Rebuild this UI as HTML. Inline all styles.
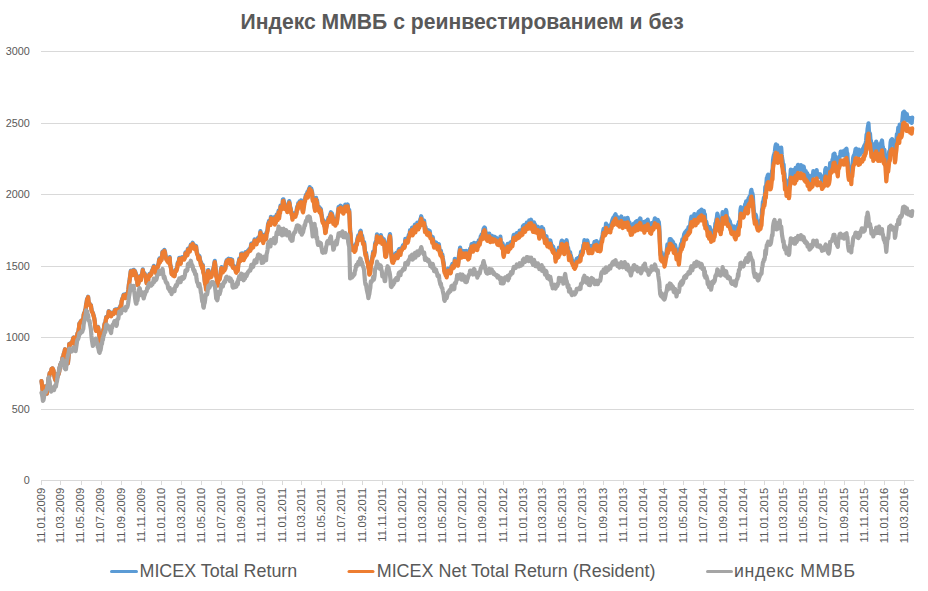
<!DOCTYPE html>
<html><head><meta charset="utf-8"><style>
html,body{margin:0;padding:0;background:#fff;}
svg{display:block;}
text{font-family:"Liberation Sans","DejaVu Sans",sans-serif;fill:#595959;}
</style></head><body>
<svg width="928" height="591" viewBox="0 0 928 591">
<rect width="928" height="591" fill="#fff"/>
<text x="240.5" y="29.3" font-size="21.15" font-weight="bold">Индекс ММВБ с реинвестированием и без</text>
<path d="M41 51.5H914M41 123.5H914M41 194.5H914M41 266.5H914M41 337.5H914M41 409.5H914" stroke="#d9d9d9" stroke-width="1" fill="none"/>
<path d="M41 480.5H914M41.5 480V485M60.5 480V485M81.5 480V485M101.5 480V485M121.5 480V485M141.5 480V485M161.5 480V485M181.5 480V485M201.5 480V485M221.5 480V485M242.5 480V485M262.5 480V485M282.5 480V485M301.5 480V485M321.5 480V485M342.5 480V485M362.5 480V485M382.5 480V485M402.5 480V485M422.5 480V485M442.5 480V485M462.5 480V485M483.5 480V485M503.5 480V485M523.5 480V485M542.5 480V485M563.5 480V485M583.5 480V485M603.5 480V485M623.5 480V485M643.5 480V485M663.5 480V485M683.5 480V485M703.5 480V485M724.5 480V485M744.5 480V485M764.5 480V485M783.5 480V485M803.5 480V485M824.5 480V485M844.5 480V485M864.5 480V485M884.5 480V485M904.5 480V485" stroke="#d9d9d9" stroke-width="1" fill="none"/>
<text transform="translate(29.8 54.7) scale(0.95 1)" font-size="11.4" text-anchor="end">3000</text>
<text transform="translate(29.8 126.7) scale(0.95 1)" font-size="11.4" text-anchor="end">2500</text>
<text transform="translate(29.8 197.7) scale(0.95 1)" font-size="11.4" text-anchor="end">2000</text>
<text transform="translate(29.8 269.7) scale(0.95 1)" font-size="11.4" text-anchor="end">1500</text>
<text transform="translate(29.8 340.7) scale(0.95 1)" font-size="11.4" text-anchor="end">1000</text>
<text transform="translate(29.8 412.7) scale(0.95 1)" font-size="11.4" text-anchor="end">500</text>
<text transform="translate(29.8 483.7) scale(0.95 1)" font-size="11.4" text-anchor="end">0</text>
<text transform="translate(44.7 487.6) rotate(-90)" font-size="11.3" text-anchor="end">11.01.2009</text>
<text transform="translate(64.2 487.6) rotate(-90)" font-size="11.3" text-anchor="end">11.03.2009</text>
<text transform="translate(84.3 487.6) rotate(-90)" font-size="11.3" text-anchor="end">11.05.2009</text>
<text transform="translate(104.4 487.6) rotate(-90)" font-size="11.3" text-anchor="end">11.07.2009</text>
<text transform="translate(124.9 487.6) rotate(-90)" font-size="11.3" text-anchor="end">11.09.2009</text>
<text transform="translate(145.0 487.6) rotate(-90)" font-size="11.3" text-anchor="end">11.11.2009</text>
<text transform="translate(165.1 487.6) rotate(-90)" font-size="11.3" text-anchor="end">11.01.2010</text>
<text transform="translate(184.6 487.6) rotate(-90)" font-size="11.3" text-anchor="end">11.03.2010</text>
<text transform="translate(204.7 487.6) rotate(-90)" font-size="11.3" text-anchor="end">11.05.2010</text>
<text transform="translate(224.8 487.6) rotate(-90)" font-size="11.3" text-anchor="end">11.07.2010</text>
<text transform="translate(245.3 487.6) rotate(-90)" font-size="11.3" text-anchor="end">11.09.2010</text>
<text transform="translate(265.4 487.6) rotate(-90)" font-size="11.3" text-anchor="end">11.11.2010</text>
<text transform="translate(285.5 487.6) rotate(-90)" font-size="11.3" text-anchor="end">11.01.2011</text>
<text transform="translate(305.0 487.6) rotate(-90)" font-size="11.3" text-anchor="end">11.03.2011</text>
<text transform="translate(325.1 487.6) rotate(-90)" font-size="11.3" text-anchor="end">11.05.2011</text>
<text transform="translate(345.2 487.6) rotate(-90)" font-size="11.3" text-anchor="end">11.07.2011</text>
<text transform="translate(365.7 487.6) rotate(-90)" font-size="11.3" text-anchor="end">11.09.2011</text>
<text transform="translate(385.8 487.6) rotate(-90)" font-size="11.3" text-anchor="end">11.11.2011</text>
<text transform="translate(405.9 487.6) rotate(-90)" font-size="11.3" text-anchor="end">11.01.2012</text>
<text transform="translate(425.7 487.6) rotate(-90)" font-size="11.3" text-anchor="end">11.03.2012</text>
<text transform="translate(445.8 487.6) rotate(-90)" font-size="11.3" text-anchor="end">11.05.2012</text>
<text transform="translate(466.0 487.6) rotate(-90)" font-size="11.3" text-anchor="end">11.07.2012</text>
<text transform="translate(486.4 487.6) rotate(-90)" font-size="11.3" text-anchor="end">11.09.2012</text>
<text transform="translate(506.6 487.6) rotate(-90)" font-size="11.3" text-anchor="end">11.11.2012</text>
<text transform="translate(526.7 487.6) rotate(-90)" font-size="11.3" text-anchor="end">11.01.2013</text>
<text transform="translate(546.1 487.6) rotate(-90)" font-size="11.3" text-anchor="end">11.03.2013</text>
<text transform="translate(566.3 487.6) rotate(-90)" font-size="11.3" text-anchor="end">11.05.2013</text>
<text transform="translate(586.4 487.6) rotate(-90)" font-size="11.3" text-anchor="end">11.07.2013</text>
<text transform="translate(606.8 487.6) rotate(-90)" font-size="11.3" text-anchor="end">11.09.2013</text>
<text transform="translate(627.0 487.6) rotate(-90)" font-size="11.3" text-anchor="end">11.11.2013</text>
<text transform="translate(647.1 487.6) rotate(-90)" font-size="11.3" text-anchor="end">11.01.2014</text>
<text transform="translate(666.5 487.6) rotate(-90)" font-size="11.3" text-anchor="end">11.03.2014</text>
<text transform="translate(686.7 487.6) rotate(-90)" font-size="11.3" text-anchor="end">11.05.2014</text>
<text transform="translate(706.8 487.6) rotate(-90)" font-size="11.3" text-anchor="end">11.07.2014</text>
<text transform="translate(727.2 487.6) rotate(-90)" font-size="11.3" text-anchor="end">11.09.2014</text>
<text transform="translate(747.4 487.6) rotate(-90)" font-size="11.3" text-anchor="end">11.11.2014</text>
<text transform="translate(767.5 487.6) rotate(-90)" font-size="11.3" text-anchor="end">11.01.2015</text>
<text transform="translate(787.0 487.6) rotate(-90)" font-size="11.3" text-anchor="end">11.03.2015</text>
<text transform="translate(807.1 487.6) rotate(-90)" font-size="11.3" text-anchor="end">11.05.2015</text>
<text transform="translate(827.2 487.6) rotate(-90)" font-size="11.3" text-anchor="end">11.07.2015</text>
<text transform="translate(847.7 487.6) rotate(-90)" font-size="11.3" text-anchor="end">11.09.2015</text>
<text transform="translate(867.8 487.6) rotate(-90)" font-size="11.3" text-anchor="end">11.11.2015</text>
<text transform="translate(887.9 487.6) rotate(-90)" font-size="11.3" text-anchor="end">11.01.2016</text>
<text transform="translate(907.7 487.6) rotate(-90)" font-size="11.3" text-anchor="end">11.03.2016</text>
<g fill="none" stroke-width="4.2" stroke-linejoin="round" stroke-linecap="round">
<path d="M41.5 381.2L42.0 384.8L42.5 389.6L42.9 391.8L43.4 391.2L43.9 391.4L44.4 389.7L44.9 386.5L45.3 387.2L45.8 386.6L46.3 390.0L46.8 393.6L47.3 389.9L47.7 387.7L48.2 383.1L48.7 378.0L49.2 376.4L49.7 373.0L50.1 373.6L50.6 372.2L51.1 371.7L51.6 368.8L52.1 369.3L52.5 368.5L53.0 369.1L53.5 370.6L54.0 374.4L54.5 376.4L54.9 378.6L55.4 380.1L55.9 380.7L56.4 378.7L56.9 378.2L57.3 377.3L57.8 373.8L58.3 374.7L58.8 373.3L59.3 371.2L59.7 367.7L60.2 364.9L60.7 363.9L61.2 362.8L61.7 363.5L62.1 361.4L62.6 357.3L63.1 358.6L63.6 354.4L64.1 352.6L64.5 351.8L65.0 349.2L65.5 350.7L66.0 354.2L66.5 355.2L66.9 357.6L67.4 361.4L67.9 363.3L68.4 358.4L68.9 349.6L69.3 343.9L69.8 345.4L70.3 344.0L70.8 343.9L71.3 342.6L71.7 343.3L72.2 342.0L72.7 340.4L73.2 338.0L73.7 337.5L74.1 341.4L74.6 342.8L75.1 342.3L75.6 346.2L76.1 342.8L76.5 339.7L77.0 335.4L77.5 333.3L78.0 332.6L78.5 330.7L78.9 328.4L79.4 323.5L79.9 322.8L80.4 322.4L80.9 321.0L81.3 320.7L81.8 320.3L82.3 321.1L82.8 319.4L83.3 318.7L83.7 314.6L84.2 312.9L84.7 312.2L85.2 309.8L85.7 308.6L86.1 304.3L86.6 302.4L87.1 298.9L87.6 298.8L88.1 296.7L88.5 300.8L89.0 303.4L89.5 303.3L90.0 305.3L90.5 305.4L90.9 305.1L91.4 309.0L91.9 311.3L92.4 312.0L92.9 312.9L93.3 314.5L93.8 316.2L94.3 318.2L94.8 321.4L95.3 326.9L95.7 329.5L96.2 330.5L96.7 330.4L97.2 327.6L97.7 327.3L98.1 327.0L98.6 330.2L99.1 333.4L99.6 337.4L100.1 340.0L100.5 343.1L101.0 341.0L101.5 337.5L102.0 338.7L102.5 334.3L102.9 334.6L103.4 329.5L103.9 328.4L104.4 324.6L104.9 322.8L105.3 324.0L105.8 319.6L106.3 317.0L106.8 317.5L107.3 316.9L107.7 315.8L108.2 315.4L108.7 311.1L109.2 311.7L109.7 312.1L110.1 313.6L110.6 314.4L111.1 315.8L111.6 312.8L112.1 314.3L112.5 312.6L113.0 312.8L113.5 313.5L114.0 312.4L114.5 311.6L114.9 309.7L115.4 309.5L115.9 310.0L116.4 311.9L116.9 312.2L117.3 309.2L117.8 311.9L118.3 313.6L118.8 312.1L119.3 308.2L119.7 309.4L120.2 306.7L120.7 305.3L121.2 305.5L121.7 300.6L122.1 299.4L122.6 297.9L123.1 297.6L123.6 294.7L124.1 294.7L124.5 294.7L125.0 296.4L125.5 297.5L126.0 293.8L126.5 295.8L126.9 295.5L127.4 295.3L127.9 292.7L128.4 289.3L128.9 284.2L129.3 281.8L129.8 278.4L130.3 274.6L130.8 270.7L131.3 270.7L131.7 271.3L132.2 273.0L132.7 274.5L133.2 271.1L133.7 269.8L134.1 271.4L134.6 270.5L135.1 271.5L135.6 273.0L136.1 274.6L136.5 278.9L137.0 278.2L137.5 284.3L138.0 284.0L138.5 282.6L138.9 280.4L139.4 277.4L139.9 276.2L140.4 279.3L140.9 279.5L141.3 275.1L141.8 275.2L142.3 272.4L142.8 269.4L143.3 272.5L143.7 274.6L144.2 273.1L144.7 273.7L145.2 275.3L145.7 276.5L146.1 279.6L146.6 282.8L147.1 280.4L147.6 280.4L148.1 280.7L148.5 276.5L149.0 275.6L149.5 273.8L150.0 275.2L150.5 274.5L150.9 274.2L151.4 273.3L151.9 270.7L152.4 270.8L152.9 268.4L153.3 267.9L153.8 265.9L154.3 270.6L154.8 268.3L155.3 269.7L155.7 270.1L156.2 272.7L156.7 271.0L157.2 267.1L157.7 266.5L158.1 264.5L158.6 263.7L159.1 259.5L159.6 258.5L160.1 261.2L160.5 258.5L161.0 259.5L161.5 259.2L162.0 255.9L162.5 251.5L162.9 251.4L163.4 253.9L163.9 254.3L164.4 249.9L164.9 251.4L165.3 253.9L165.8 256.5L166.3 258.5L166.8 258.9L167.3 260.3L167.7 260.1L168.2 261.5L168.7 258.3L169.2 258.7L169.7 257.1L170.1 263.6L170.6 265.8L171.1 268.0L171.6 273.2L172.1 271.0L172.5 272.6L173.0 274.6L173.5 272.6L174.0 272.4L174.5 275.3L174.9 272.0L175.4 270.7L175.9 269.4L176.4 269.9L176.9 268.1L177.3 266.7L177.8 262.6L178.3 261.8L178.8 261.0L179.3 257.9L179.7 261.1L180.2 261.6L180.7 262.8L181.2 258.5L181.7 257.5L182.1 257.1L182.6 257.4L183.1 258.7L183.6 258.4L184.1 258.6L184.5 257.8L185.0 256.2L185.5 252.3L186.0 252.7L186.5 253.6L186.9 254.5L187.4 254.2L187.9 248.6L188.4 248.4L188.9 248.9L189.3 249.3L189.8 250.5L190.3 247.8L190.8 244.5L191.3 245.1L191.7 244.4L192.2 243.7L192.7 242.8L193.2 246.5L193.7 245.7L194.1 247.6L194.6 245.2L195.1 248.2L195.6 247.4L196.1 245.9L196.5 250.1L197.0 252.9L197.5 253.8L198.0 255.3L198.5 258.3L198.9 257.3L199.4 256.0L199.9 259.3L200.4 260.8L200.9 264.0L201.3 262.8L201.8 265.9L202.3 267.6L202.8 264.9L203.3 271.5L203.7 272.6L204.2 274.9L204.7 280.3L205.2 283.3L205.7 284.6L206.1 288.7L206.6 286.2L207.1 283.4L207.6 277.6L208.1 270.0L208.5 270.2L209.0 274.2L209.5 276.1L210.0 276.5L210.5 275.4L210.9 276.2L211.4 275.7L211.9 273.5L212.4 272.6L212.9 270.8L213.3 268.6L213.8 267.0L214.3 263.5L214.8 260.9L215.3 264.9L215.7 269.0L216.2 275.6L216.7 276.2L217.2 282.0L217.7 284.7L218.1 280.1L218.6 277.4L219.1 276.7L219.6 278.7L220.1 275.9L220.5 274.0L221.0 269.3L221.5 267.1L222.0 267.8L222.5 270.0L222.9 271.3L223.4 269.1L223.9 268.2L224.4 269.5L224.9 267.0L225.3 268.0L225.8 263.4L226.3 261.4L226.8 260.1L227.3 261.8L227.7 259.6L228.2 258.9L228.7 258.7L229.2 259.0L229.7 261.3L230.1 262.8L230.6 259.0L231.1 260.0L231.6 260.0L232.1 259.6L232.5 265.7L233.0 266.5L233.5 265.9L234.0 265.9L234.5 267.7L234.9 267.0L235.4 268.4L235.9 271.1L236.4 271.6L236.9 269.0L237.3 267.9L237.8 269.8L238.3 263.6L238.8 261.6L239.3 258.6L239.7 259.5L240.2 259.0L240.7 259.8L241.2 253.5L241.7 255.8L242.1 253.3L242.6 256.7L243.1 256.2L243.6 259.0L244.1 257.6L244.5 253.8L245.0 256.5L245.5 252.2L246.0 252.3L246.5 254.5L246.9 253.3L247.4 252.6L247.9 250.7L248.4 250.2L248.9 250.3L249.3 249.1L249.8 249.4L250.3 249.6L250.8 246.7L251.3 243.6L251.7 247.3L252.2 245.0L252.7 245.8L253.2 246.1L253.7 242.0L254.1 243.4L254.6 239.3L255.1 242.8L255.6 241.5L256.1 242.0L256.5 243.1L257.0 239.9L257.5 240.4L258.0 238.0L258.5 238.1L258.9 239.4L259.4 236.9L259.9 234.6L260.4 231.2L260.9 233.5L261.3 233.8L261.8 238.5L262.3 236.2L262.8 239.6L263.3 241.6L263.7 238.0L264.2 234.8L264.7 238.3L265.2 238.3L265.7 237.5L266.1 237.9L266.6 232.1L267.1 231.4L267.6 229.1L268.1 223.6L268.5 223.6L269.0 221.0L269.5 222.8L270.0 223.4L270.5 223.6L270.9 216.8L271.4 219.4L271.9 219.8L272.4 220.7L272.9 220.7L273.3 220.3L273.8 217.3L274.3 220.6L274.8 223.1L275.3 222.1L275.7 221.8L276.2 216.1L276.7 214.6L277.2 217.2L277.7 218.6L278.1 216.1L278.6 210.7L279.1 217.0L279.6 210.9L280.1 211.5L280.5 205.6L281.0 207.7L281.5 206.4L282.0 207.6L282.5 206.1L282.9 199.5L283.4 199.3L283.9 201.7L284.4 203.9L284.9 207.6L285.3 206.4L285.8 205.7L286.3 206.7L286.8 207.8L287.3 210.6L287.7 208.5L288.2 207.1L288.7 203.0L289.2 201.1L289.7 203.2L290.1 206.7L290.6 207.9L291.1 210.9L291.6 213.3L292.1 214.1L292.5 218.2L293.0 214.3L293.5 214.4L294.0 213.3L294.5 213.5L294.9 214.8L295.4 215.2L295.9 213.0L296.4 212.4L296.9 208.4L297.3 206.4L297.8 207.8L298.3 203.0L298.8 203.7L299.3 202.3L299.7 201.3L300.2 205.5L300.7 201.6L301.2 200.4L301.7 201.0L302.1 205.2L302.6 209.7L303.1 210.7L303.6 206.6L304.1 204.2L304.5 200.0L305.0 199.9L305.5 196.7L306.0 194.9L306.5 194.6L306.9 194.6L307.4 191.9L307.9 195.9L308.4 191.0L308.9 189.4L309.3 188.4L309.8 187.2L310.3 189.2L310.8 189.6L311.3 188.7L311.7 190.3L312.2 192.5L312.7 199.1L313.2 198.8L313.7 199.5L314.1 202.3L314.6 206.6L315.1 209.2L315.6 200.8L316.1 197.8L316.5 203.3L317.0 200.3L317.5 205.4L318.0 207.6L318.5 208.5L318.9 206.7L319.4 210.3L319.9 210.9L320.4 208.4L320.9 209.1L321.3 213.1L321.8 215.6L322.3 219.5L322.8 221.1L323.3 220.1L323.7 221.5L324.2 224.4L324.7 225.4L325.2 231.5L325.7 231.1L326.1 227.2L326.6 225.1L327.1 221.6L327.6 220.5L328.1 220.6L328.5 217.6L329.0 219.2L329.5 220.1L330.0 214.7L330.5 214.0L330.9 212.2L331.4 215.4L331.9 213.2L332.4 215.2L332.9 217.7L333.3 222.2L333.8 221.4L334.3 219.9L334.8 221.3L335.3 224.0L335.7 222.0L336.2 218.5L336.7 221.9L337.2 218.6L337.7 214.3L338.1 211.3L338.6 207.0L339.1 206.8L339.6 207.8L340.1 207.3L340.5 205.7L341.0 209.4L341.5 209.8L342.0 208.6L342.5 206.8L342.9 210.9L343.4 211.7L343.9 210.6L344.4 206.9L344.9 208.0L345.3 204.6L345.8 209.1L346.3 208.6L346.8 208.1L347.3 206.0L347.7 204.5L348.2 210.0L348.7 210.9L349.2 209.9L349.7 219.7L350.1 229.9L350.6 233.9L351.1 242.2L351.6 246.0L352.1 248.2L352.5 246.1L353.0 248.0L353.5 245.8L354.0 249.1L354.5 250.1L354.9 247.9L355.4 249.1L355.9 244.9L356.4 242.9L356.9 243.1L357.3 239.2L357.8 237.8L358.3 235.3L358.8 237.9L359.3 238.2L359.7 234.5L360.2 231.4L360.7 230.8L361.2 234.5L361.7 237.0L362.1 235.8L362.6 239.3L363.1 242.3L363.6 241.7L364.1 242.0L364.5 246.0L365.0 250.8L365.5 253.8L366.0 252.6L366.5 256.7L366.9 258.8L367.4 260.7L367.9 262.6L368.4 266.4L368.9 268.1L369.3 273.0L369.8 272.7L370.3 270.8L370.8 264.3L371.3 262.6L371.7 261.3L372.2 258.1L372.7 255.1L373.2 251.5L373.7 254.2L374.1 253.1L374.6 250.6L375.1 243.7L375.6 242.0L376.1 242.3L376.5 239.5L377.0 234.3L377.5 237.1L378.0 238.4L378.5 236.3L378.9 237.6L379.4 237.5L379.9 240.3L380.4 236.0L380.9 235.1L381.3 237.1L381.8 237.5L382.3 242.0L382.8 239.5L383.3 239.4L383.7 239.1L384.2 241.7L384.7 247.6L385.2 254.4L385.7 255.0L386.1 254.7L386.6 251.4L387.1 249.1L387.6 246.5L388.1 246.6L388.5 241.1L389.0 239.5L389.5 236.2L390.0 234.1L390.5 239.4L390.9 249.1L391.4 253.3L391.9 258.6L392.4 260.7L392.9 258.1L393.3 260.9L393.8 256.7L394.3 258.6L394.8 255.0L395.3 253.8L395.7 253.6L396.2 252.9L396.7 254.2L397.2 254.8L397.7 256.2L398.1 254.8L398.6 250.1L399.1 249.2L399.6 249.4L400.1 250.6L400.5 252.9L401.0 248.4L401.5 248.8L402.0 247.9L402.5 247.1L402.9 245.4L403.4 245.7L403.9 244.7L404.4 245.8L404.9 244.4L405.3 238.9L405.8 240.6L406.3 241.1L406.8 239.6L407.3 238.5L407.7 240.5L408.2 238.9L408.7 235.2L409.2 234.5L409.7 233.6L410.1 230.1L410.6 232.6L411.1 231.3L411.6 231.8L412.1 227.5L412.5 233.0L413.0 232.2L413.5 230.9L414.0 228.0L414.5 226.6L414.9 224.7L415.4 230.0L415.9 226.2L416.4 226.2L416.9 226.3L417.3 222.6L417.8 224.5L418.3 227.1L418.8 223.7L419.3 225.3L419.7 223.2L420.2 219.7L420.7 218.6L421.2 216.2L421.7 218.0L422.1 222.4L422.6 221.9L423.1 221.7L423.6 222.4L424.1 220.6L424.5 224.2L425.0 229.6L425.5 226.9L426.0 229.4L426.5 230.6L426.9 232.1L427.4 231.7L427.9 232.8L428.4 230.2L428.9 231.1L429.3 231.3L429.8 231.2L430.3 235.7L430.8 235.6L431.3 236.7L431.7 236.7L432.2 240.5L432.7 237.0L433.2 239.8L433.7 243.1L434.1 245.3L434.6 243.4L435.1 242.4L435.6 243.4L436.1 242.5L436.5 244.9L437.0 244.3L437.5 247.0L438.0 246.9L438.5 245.1L438.9 244.2L439.4 248.8L439.9 250.7L440.4 252.9L440.9 250.8L441.3 254.1L441.8 254.8L442.3 254.6L442.8 258.1L443.3 260.9L443.7 263.1L444.2 268.7L444.7 270.8L445.2 271.6L445.7 273.1L446.1 272.9L446.6 275.3L447.1 273.2L447.6 269.8L448.1 268.6L448.5 269.1L449.0 270.7L449.5 268.6L450.0 269.8L450.5 271.1L450.9 270.6L451.4 266.1L451.9 266.1L452.4 263.8L452.9 266.3L453.3 264.2L453.8 265.4L454.3 264.2L454.8 258.8L455.3 259.3L455.7 262.3L456.2 262.7L456.7 262.6L457.2 260.9L457.7 263.4L458.1 263.3L458.6 258.7L459.1 254.6L459.6 250.3L460.1 247.6L460.5 250.4L461.0 250.9L461.5 255.3L462.0 253.3L462.5 250.8L462.9 252.8L463.4 253.7L463.9 254.3L464.4 251.0L464.9 254.6L465.3 253.7L465.8 252.0L466.3 251.0L466.8 253.9L467.3 254.1L467.7 256.2L468.2 257.0L468.7 255.8L469.2 256.0L469.7 252.8L470.1 248.6L470.6 249.8L471.1 247.3L471.6 244.0L472.1 247.6L472.5 246.6L473.0 249.0L473.5 245.7L474.0 242.9L474.5 243.1L474.9 247.0L475.4 246.1L475.9 246.9L476.4 246.3L476.9 242.9L477.3 247.5L477.8 243.5L478.3 243.9L478.8 240.3L479.3 240.6L479.7 242.1L480.2 239.5L480.7 236.5L481.2 236.1L481.7 234.3L482.1 235.1L482.6 236.3L483.1 231.4L483.6 228.8L484.1 228.0L484.5 227.4L485.0 228.2L485.5 232.5L486.0 235.8L486.5 236.9L486.9 233.9L487.4 238.0L487.9 233.8L488.4 236.1L488.9 237.6L489.3 233.6L489.8 236.2L490.3 239.4L490.8 239.0L491.3 237.0L491.7 235.8L492.2 238.8L492.7 237.9L493.2 236.8L493.7 238.7L494.1 236.7L494.6 236.8L495.1 237.4L495.6 237.7L496.1 237.7L496.5 238.3L497.0 240.5L497.5 241.9L498.0 239.9L498.5 242.3L498.9 240.8L499.4 239.6L499.9 240.2L500.4 236.7L500.9 242.8L501.3 242.4L501.8 245.3L502.3 243.1L502.8 244.3L503.3 252.4L503.7 254.2L504.2 251.5L504.7 249.3L505.2 247.8L505.7 249.0L506.1 247.4L506.6 246.0L507.1 246.0L507.6 244.0L508.1 249.0L508.5 245.3L509.0 247.1L509.5 243.4L510.0 244.1L510.5 245.5L510.9 242.2L511.4 243.4L511.9 243.0L512.4 243.4L512.9 240.0L513.3 237.0L513.8 234.8L514.3 236.7L514.8 235.2L515.3 236.6L515.7 236.8L516.2 234.9L516.7 233.1L517.2 234.8L517.7 235.1L518.1 234.6L518.6 233.6L519.1 234.5L519.6 230.5L520.1 232.2L520.5 230.4L521.0 232.7L521.5 230.9L522.0 230.1L522.5 231.6L522.9 226.2L523.4 227.9L523.9 225.1L524.4 225.6L524.9 228.8L525.3 228.2L525.8 225.2L526.3 224.2L526.8 222.7L527.3 222.8L527.7 225.6L528.2 222.4L528.7 225.5L529.2 220.4L529.7 220.6L530.1 221.2L530.6 220.6L531.1 219.8L531.6 223.5L532.1 226.3L532.5 226.0L533.0 228.7L533.5 226.9L534.0 222.4L534.5 226.1L534.9 224.3L535.4 229.0L535.9 227.7L536.4 228.7L536.9 229.4L537.3 228.4L537.8 226.7L538.3 229.9L538.8 231.8L539.3 235.3L539.7 233.0L540.2 232.7L540.7 229.9L541.2 230.7L541.7 227.1L542.1 233.1L542.6 231.0L543.1 228.6L543.6 231.7L544.1 234.8L544.5 236.3L545.0 239.9L545.5 238.5L546.0 236.0L546.5 236.5L546.9 241.5L547.4 243.1L547.9 243.2L548.4 240.3L548.9 243.2L549.3 244.0L549.8 241.1L550.3 240.4L550.8 242.2L551.3 244.8L551.7 246.7L552.2 245.7L552.7 249.0L553.2 246.8L553.7 250.0L554.1 250.5L554.6 249.9L555.1 252.3L555.6 258.5L556.1 255.3L556.5 252.8L557.0 255.0L557.5 254.7L558.0 252.5L558.5 253.9L558.9 247.6L559.4 251.9L559.9 250.0L560.4 246.8L560.9 245.3L561.3 242.2L561.8 240.6L562.3 241.7L562.8 241.3L563.3 249.3L563.7 248.6L564.2 250.8L564.7 247.0L565.2 243.9L565.7 243.9L566.1 242.1L566.6 240.2L567.1 243.4L567.6 248.7L568.1 247.9L568.5 250.1L569.0 257.0L569.5 256.1L570.0 252.1L570.5 254.2L570.9 255.7L571.4 257.9L571.9 259.8L572.4 260.5L572.9 262.2L573.3 261.4L573.8 264.4L574.3 264.6L574.8 265.6L575.3 263.4L575.7 263.7L576.2 262.0L576.7 258.8L577.2 258.7L577.7 258.2L578.1 258.3L578.6 258.3L579.1 258.4L579.6 258.4L580.1 255.7L580.5 257.6L581.0 251.9L581.5 251.6L582.0 251.9L582.5 250.3L582.9 249.2L583.4 245.2L583.9 244.7L584.4 240.2L584.9 241.4L585.3 244.3L585.8 241.7L586.3 244.4L586.8 242.0L587.3 240.4L587.7 242.1L588.2 247.6L588.7 249.6L589.2 246.1L589.7 248.1L590.1 249.5L590.6 248.4L591.1 245.8L591.6 247.0L592.1 249.6L592.5 248.6L593.0 245.8L593.5 245.5L594.0 244.7L594.5 241.8L594.9 243.9L595.4 243.2L595.9 243.3L596.4 241.1L596.9 245.9L597.3 246.9L597.8 247.2L598.3 245.3L598.8 242.5L599.3 244.8L599.7 246.0L600.2 247.6L600.7 246.2L601.2 241.0L601.7 238.4L602.1 237.9L602.6 234.9L603.1 231.4L603.6 228.8L604.1 230.2L604.5 229.0L605.0 231.5L605.5 230.3L606.0 223.7L606.5 229.0L606.9 227.1L607.4 225.8L607.9 227.1L608.4 227.7L608.9 226.9L609.3 226.5L609.8 225.5L610.3 228.3L610.8 224.8L611.3 224.6L611.7 223.1L612.2 220.7L612.7 219.2L613.2 217.9L613.7 220.7L614.1 217.8L614.6 215.8L615.1 215.2L615.6 214.3L616.1 217.9L616.5 218.9L617.0 216.8L617.5 220.5L618.0 217.8L618.5 218.8L618.9 219.1L619.4 222.4L619.9 221.9L620.4 219.8L620.9 217.2L621.3 216.5L621.8 219.3L622.3 221.0L622.8 223.6L623.3 221.6L623.7 222.1L624.2 220.4L624.7 218.3L625.2 219.1L625.7 222.6L626.1 221.9L626.6 221.9L627.1 222.1L627.6 217.9L628.1 220.2L628.5 225.6L629.0 223.5L629.5 222.5L630.0 226.3L630.5 229.0L630.9 230.5L631.4 230.4L631.9 230.3L632.4 228.7L632.9 226.7L633.3 225.3L633.8 223.6L634.3 223.4L634.8 226.8L635.3 223.9L635.7 222.0L636.2 223.3L636.7 221.1L637.2 223.7L637.7 225.6L638.1 220.9L638.6 221.2L639.1 221.2L639.6 219.3L640.1 218.4L640.5 218.8L641.0 224.9L641.5 224.8L642.0 224.3L642.5 225.3L642.9 224.0L643.4 222.5L643.9 226.1L644.4 228.1L644.9 221.5L645.3 224.0L645.8 225.9L646.3 222.6L646.8 220.7L647.3 221.6L647.7 219.6L648.2 223.0L648.7 225.8L649.2 224.9L649.7 225.0L650.1 228.5L650.6 228.7L651.1 229.2L651.6 223.2L652.1 226.4L652.5 222.8L653.0 224.2L653.5 224.6L654.0 221.8L654.5 220.2L654.9 218.3L655.4 219.7L655.9 222.2L656.4 222.4L656.9 220.9L657.3 221.1L657.8 220.0L658.3 222.2L658.8 222.0L659.3 227.2L659.7 236.8L660.2 247.4L660.7 254.9L661.2 256.3L661.7 252.7L662.1 257.3L662.6 255.8L663.1 257.7L663.6 257.4L664.1 259.2L664.5 262.4L665.0 260.4L665.5 257.6L666.0 253.9L666.5 252.2L666.9 249.0L667.4 244.4L667.9 248.7L668.4 245.1L668.9 245.7L669.3 242.5L669.8 239.1L670.3 239.7L670.8 239.1L671.3 244.5L671.7 240.4L672.2 242.7L672.7 241.5L673.2 242.6L673.7 247.8L674.1 248.5L674.6 247.0L675.1 245.0L675.6 248.0L676.1 250.4L676.5 254.8L677.0 251.6L677.5 250.9L678.0 254.8L678.5 257.5L678.9 260.1L679.4 255.6L679.9 248.8L680.4 247.6L680.9 244.5L681.3 243.4L681.8 244.7L682.3 239.4L682.8 242.2L683.3 239.9L683.7 237.1L684.2 234.1L684.7 233.1L685.2 232.2L685.7 233.6L686.1 234.2L686.6 230.6L687.1 230.1L687.6 230.2L688.1 229.3L688.5 227.2L689.0 228.5L689.5 227.5L690.0 226.9L690.5 221.9L690.9 219.4L691.4 216.5L691.9 220.2L692.4 221.1L692.9 217.6L693.3 218.5L693.8 218.1L694.3 214.2L694.8 217.2L695.3 219.3L695.7 219.8L696.2 216.1L696.7 214.4L697.2 217.2L697.7 217.3L698.1 214.0L698.6 212.0L699.1 213.7L699.6 211.4L700.1 210.6L700.5 214.8L701.0 212.1L701.5 209.6L702.0 211.0L702.5 214.7L702.9 214.0L703.4 212.0L703.9 211.0L704.4 219.5L704.9 214.3L705.3 222.7L705.8 221.6L706.3 221.9L706.8 224.5L707.3 225.9L707.7 230.6L708.2 228.5L708.7 231.4L709.2 233.3L709.7 227.1L710.1 229.7L710.6 229.6L711.1 236.6L711.6 235.0L712.1 234.6L712.5 234.8L713.0 234.2L713.5 235.1L714.0 230.9L714.5 231.7L714.9 229.1L715.4 223.2L715.9 222.9L716.4 219.4L716.9 217.4L717.3 213.7L717.8 215.3L718.3 220.4L718.8 220.0L719.3 225.3L719.7 226.3L720.2 224.7L720.7 228.6L721.2 224.6L721.7 224.0L722.1 218.7L722.6 212.1L723.1 214.1L723.6 213.3L724.1 216.5L724.5 217.8L725.0 217.6L725.5 212.0L726.0 210.0L726.5 212.1L726.9 217.5L727.4 217.2L727.9 220.2L728.4 218.7L728.9 220.1L729.3 221.2L729.8 221.2L730.3 223.9L730.8 224.5L731.3 227.8L731.7 226.4L732.2 228.5L732.7 226.6L733.2 228.2L733.7 227.0L734.1 226.6L734.6 231.7L735.1 232.6L735.6 233.7L736.1 231.2L736.5 228.6L737.0 228.1L737.5 229.7L738.0 224.7L738.5 229.1L738.9 221.9L739.4 221.5L739.9 220.8L740.4 210.4L740.9 207.2L741.3 210.3L741.8 208.7L742.3 209.8L742.8 208.5L743.3 211.4L743.7 210.5L744.2 207.9L744.7 207.1L745.2 204.1L745.7 205.3L746.1 201.4L746.6 205.0L747.1 203.5L747.6 207.0L748.1 206.2L748.5 198.3L749.0 200.4L749.5 196.5L750.0 196.2L750.5 196.7L750.9 191.7L751.4 189.8L751.9 192.9L752.4 193.3L752.9 196.4L753.3 203.9L753.8 210.8L754.3 213.5L754.8 217.5L755.3 216.0L755.7 214.7L756.2 216.6L756.7 220.3L757.2 222.1L757.7 223.9L758.1 224.3L758.6 224.5L759.1 223.4L759.6 223.2L760.1 221.3L760.5 222.7L761.0 219.9L761.5 218.9L762.0 210.3L762.5 207.4L762.9 201.7L763.4 201.4L763.9 197.7L764.4 198.8L764.9 195.3L765.3 186.8L765.8 191.2L766.3 184.1L766.8 178.2L767.3 177.2L767.7 175.5L768.2 174.6L768.7 179.3L769.2 177.9L769.7 181.1L770.1 182.0L770.6 181.8L771.1 179.8L771.6 175.2L772.1 170.7L772.5 171.6L773.0 160.5L773.5 156.9L774.0 154.8L774.5 153.9L774.9 151.2L775.4 146.6L775.9 144.4L776.4 150.5L776.9 148.1L777.3 145.4L777.8 154.7L778.3 150.4L778.8 151.0L779.3 152.5L779.7 148.1L780.2 153.6L780.7 151.4L781.2 147.6L781.7 154.2L782.1 158.2L782.6 160.8L783.1 165.4L783.6 164.3L784.1 173.2L784.5 173.5L785.0 181.9L785.5 179.8L786.0 181.3L786.5 188.4L786.9 186.0L787.4 188.6L787.9 188.9L788.4 185.5L788.9 190.8L789.3 188.8L789.8 179.0L790.3 176.9L790.8 169.7L791.3 170.1L791.7 174.8L792.2 174.1L792.7 170.8L793.2 170.3L793.7 173.4L794.1 174.8L794.6 175.6L795.1 175.2L795.6 167.9L796.1 169.7L796.5 172.3L797.0 170.4L797.5 166.9L798.0 164.8L798.5 165.6L798.9 167.6L799.4 166.1L799.9 169.8L800.4 169.8L800.9 165.1L801.3 167.7L801.8 167.3L802.3 166.1L802.8 168.0L803.3 170.6L803.7 166.6L804.2 169.3L804.7 172.7L805.2 171.0L805.7 171.1L806.1 174.1L806.6 172.7L807.1 173.2L807.6 177.6L808.1 175.0L808.5 175.7L809.0 177.2L809.5 181.4L810.0 180.9L810.5 178.5L810.9 176.9L811.4 179.5L811.9 175.4L812.4 178.4L812.9 176.5L813.3 171.2L813.8 174.9L814.3 175.5L814.8 172.2L815.3 174.4L815.7 174.3L816.2 172.8L816.7 170.1L817.2 177.1L817.7 175.8L818.1 176.3L818.6 176.5L819.1 176.0L819.6 176.7L820.1 174.2L820.5 177.1L821.0 176.8L821.5 177.1L822.0 180.8L822.5 180.3L822.9 177.0L823.4 177.7L823.9 178.4L824.4 175.3L824.9 174.7L825.3 169.5L825.8 168.1L826.3 173.6L826.8 174.6L827.3 172.7L827.7 177.3L828.2 175.1L828.7 176.1L829.2 174.3L829.7 171.0L830.1 163.2L830.6 164.2L831.1 164.1L831.6 163.9L832.1 162.8L832.5 159.5L833.0 159.4L833.5 154.3L834.0 156.6L834.5 153.6L834.9 155.1L835.4 156.7L835.9 162.6L836.4 162.6L836.9 163.3L837.3 164.8L837.8 167.6L838.3 160.0L838.8 159.9L839.3 158.4L839.7 156.2L840.2 154.9L840.7 151.6L841.2 155.0L841.7 155.2L842.1 152.0L842.6 151.4L843.1 152.8L843.6 153.8L844.1 155.4L844.5 154.0L845.0 150.1L845.5 154.7L846.0 149.1L846.5 148.7L846.9 152.6L847.4 153.7L847.9 162.6L848.4 168.0L848.9 171.0L849.3 170.2L849.8 169.5L850.3 170.1L850.8 169.4L851.3 175.4L851.7 168.5L852.2 167.6L852.7 162.5L853.2 157.6L853.7 156.0L854.1 155.2L854.6 154.6L855.1 151.8L855.6 149.1L856.1 148.7L856.5 152.2L857.0 153.3L857.5 153.7L858.0 150.2L858.5 155.5L858.9 149.5L859.4 152.5L859.9 154.8L860.4 152.7L860.9 151.3L861.3 152.2L861.8 150.2L862.3 152.1L862.8 149.4L863.3 147.8L863.7 149.9L864.2 145.8L864.7 146.6L865.2 144.1L865.7 143.8L866.1 140.4L866.6 134.4L867.1 135.4L867.6 128.7L868.1 126.0L868.5 123.3L869.0 132.2L869.5 132.8L870.0 133.7L870.5 140.1L870.9 140.4L871.4 147.1L871.9 143.3L872.4 146.0L872.9 144.3L873.3 151.3L873.8 148.5L874.3 149.9L874.8 146.7L875.3 149.0L875.7 148.6L876.2 141.6L876.7 146.2L877.2 148.7L877.7 148.9L878.1 151.1L878.6 146.4L879.1 144.4L879.6 148.7L880.1 151.2L880.5 146.3L881.0 143.6L881.5 142.2L882.0 140.4L882.5 145.9L882.9 147.0L883.4 151.9L883.9 153.7L884.4 149.8L884.9 155.4L885.3 155.3L885.8 163.9L886.3 172.2L886.8 166.6L887.3 161.2L887.7 160.2L888.2 162.1L888.7 157.3L889.2 151.3L889.7 151.2L890.1 149.4L890.6 142.2L891.1 140.0L891.6 140.0L892.1 139.1L892.5 142.1L893.0 140.9L893.5 142.4L894.0 142.1L894.5 144.6L894.9 152.7L895.4 150.0L895.9 143.6L896.4 140.0L896.9 134.2L897.3 133.6L897.8 132.7L898.3 127.5L898.8 130.3L899.3 132.4L899.7 124.7L900.2 126.2L900.7 124.8L901.2 127.1L901.7 125.6L902.1 122.8L902.6 118.0L903.1 112.7L903.6 116.7L904.1 111.7L904.5 115.3L905.0 117.1L905.5 113.2L906.0 115.0L906.5 119.9L906.9 114.2L907.4 120.2L907.9 119.9L908.4 120.5L908.9 117.8L909.3 120.8L909.8 118.0L910.3 121.8L910.8 118.0L911.3 122.0L911.7 122.8L912.2 117.5" stroke="#5B9BD5"/>
<path d="M41.5 381.2L42.0 384.8L42.5 389.7L42.9 391.8L43.4 391.2L43.9 391.4L44.4 389.7L44.9 386.5L45.3 387.2L45.8 386.6L46.3 390.0L46.8 393.6L47.3 389.9L47.7 387.7L48.2 383.2L48.7 378.1L49.2 376.4L49.7 373.0L50.1 373.6L50.6 372.3L51.1 371.8L51.6 368.9L52.1 369.4L52.5 368.5L53.0 369.2L53.5 370.7L54.0 374.5L54.5 376.5L54.9 378.7L55.4 380.2L55.9 380.8L56.4 378.7L56.9 378.3L57.3 377.4L57.8 373.9L58.3 374.8L58.8 373.4L59.3 371.3L59.7 367.8L60.2 365.1L60.7 364.0L61.2 362.9L61.7 363.6L62.1 361.5L62.6 357.4L63.1 358.7L63.6 354.5L64.1 352.8L64.5 352.0L65.0 349.4L65.5 350.8L66.0 354.3L66.5 355.4L66.9 357.7L67.4 361.5L67.9 363.4L68.4 358.6L68.9 349.8L69.3 344.0L69.8 345.6L70.3 344.2L70.8 344.1L71.3 342.8L71.7 343.5L72.2 342.3L72.7 340.6L73.2 338.3L73.7 337.7L74.1 341.6L74.6 343.0L75.1 342.5L75.6 346.5L76.1 343.1L76.5 339.9L77.0 335.6L77.5 333.6L78.0 332.8L78.5 331.0L78.9 328.7L79.4 323.8L79.9 323.2L80.4 322.7L80.9 321.3L81.3 321.1L81.8 320.6L82.3 321.4L82.8 319.8L83.3 319.0L83.7 314.9L84.2 313.3L84.7 312.6L85.2 310.2L85.7 309.0L86.1 304.7L86.6 302.9L87.1 299.3L87.6 299.3L88.1 297.1L88.5 301.2L89.0 303.9L89.5 303.7L90.0 305.7L90.5 305.8L90.9 305.5L91.4 309.5L91.9 311.7L92.4 312.5L92.9 313.3L93.3 315.0L93.8 316.6L94.3 318.7L94.8 321.9L95.3 327.3L95.7 330.0L96.2 331.0L96.7 330.9L97.2 328.0L97.7 327.7L98.1 327.4L98.6 330.6L99.1 333.8L99.6 337.8L100.1 340.4L100.5 343.5L101.0 341.4L101.5 337.9L102.0 339.1L102.5 334.7L102.9 335.1L103.4 330.0L103.9 328.9L104.4 325.1L104.9 323.3L105.3 324.5L105.8 320.1L106.3 317.5L106.8 318.0L107.3 317.4L107.7 316.3L108.2 315.9L108.7 311.6L109.2 312.2L109.7 312.6L110.1 314.1L110.6 315.0L111.1 316.3L111.6 313.4L112.1 314.8L112.5 313.1L113.0 313.4L113.5 314.1L114.0 312.9L114.5 312.2L114.9 310.3L115.4 310.0L115.9 310.6L116.4 312.5L116.9 312.7L117.3 309.8L117.8 312.5L118.3 314.1L118.8 312.7L119.3 308.8L119.7 310.0L120.2 307.3L120.7 305.9L121.2 306.1L121.7 301.2L122.1 300.0L122.6 298.5L123.1 298.2L123.6 295.3L124.1 295.3L124.5 295.3L125.0 297.1L125.5 298.1L126.0 294.5L126.5 296.5L126.9 296.2L127.4 296.0L127.9 293.4L128.4 290.0L128.9 284.9L129.3 282.5L129.8 279.2L130.3 275.3L130.8 271.4L131.3 271.4L131.7 272.1L132.2 273.8L132.7 275.2L133.2 271.9L133.7 270.6L134.1 272.1L134.6 271.2L135.1 272.3L135.6 273.7L136.1 275.3L136.5 279.7L137.0 279.0L137.5 285.0L138.0 284.8L138.5 283.3L138.9 281.2L139.4 278.2L139.9 277.0L140.4 280.0L140.9 280.2L141.3 275.9L141.8 276.0L142.3 273.2L142.8 270.2L143.3 273.3L143.7 275.3L144.2 273.9L144.7 274.5L145.2 276.1L145.7 277.3L146.1 280.4L146.6 283.5L147.1 281.2L147.6 281.2L148.1 281.5L148.5 277.3L149.0 276.5L149.5 274.6L150.0 276.0L150.5 275.3L150.9 275.0L151.4 274.1L151.9 271.5L152.4 271.7L152.9 269.3L153.3 268.8L153.8 266.8L154.3 271.4L154.8 269.2L155.3 270.6L155.7 271.0L156.2 273.5L156.7 271.9L157.2 268.0L157.7 267.4L158.1 265.4L158.6 264.6L159.1 260.4L159.6 259.5L160.1 262.2L160.5 259.4L161.0 260.5L161.5 260.1L162.0 256.9L162.5 252.4L162.9 252.4L163.4 254.8L163.9 255.2L164.4 250.9L164.9 252.3L165.3 254.9L165.8 257.5L166.3 259.5L166.8 259.9L167.3 261.3L167.7 261.1L168.2 262.5L168.7 259.2L169.2 259.7L169.7 258.1L170.1 264.6L170.6 266.8L171.1 268.9L171.6 274.1L172.1 271.9L172.5 273.5L173.0 275.5L173.5 273.5L174.0 273.4L174.5 276.3L174.9 272.9L175.4 271.6L175.9 270.4L176.4 270.9L176.9 269.1L177.3 267.6L177.8 263.6L178.3 262.8L178.8 262.0L179.3 258.9L179.7 262.1L180.2 262.6L180.7 263.8L181.2 259.6L181.7 258.5L182.1 258.2L182.6 258.4L183.1 259.7L183.6 259.5L184.1 259.6L184.5 258.8L185.0 257.3L185.5 253.3L186.0 253.8L186.5 254.7L186.9 255.5L187.4 255.3L187.9 249.7L188.4 249.5L188.9 250.0L189.3 250.4L189.8 251.6L190.3 248.9L190.8 245.6L191.3 246.2L191.7 245.5L192.2 244.8L192.7 243.9L193.2 247.6L193.7 246.8L194.1 248.7L194.6 246.4L195.1 249.4L195.6 248.6L196.1 247.1L196.5 251.2L197.0 254.0L197.5 254.9L198.0 256.4L198.5 259.4L198.9 258.4L199.4 257.1L199.9 260.4L200.4 261.9L200.9 265.1L201.3 263.9L201.8 267.0L202.3 268.7L202.8 266.0L203.3 272.5L203.7 273.7L204.2 275.9L204.7 281.3L205.2 284.3L205.7 285.6L206.1 289.7L206.6 287.2L207.1 284.4L207.6 278.7L208.1 271.0L208.5 271.2L209.0 275.3L209.5 277.1L210.0 277.5L210.5 276.4L210.9 277.2L211.4 276.7L211.9 274.5L212.4 273.7L212.9 271.9L213.3 269.6L213.8 268.0L214.3 264.7L214.8 262.0L215.3 266.0L215.7 270.1L216.2 276.7L216.7 277.2L217.2 283.1L217.7 285.7L218.1 281.2L218.6 278.4L219.1 277.8L219.6 279.7L220.1 277.0L220.5 275.0L221.0 270.4L221.5 268.2L222.0 268.9L222.5 271.1L222.9 272.4L223.4 270.2L223.9 269.3L224.4 270.6L224.9 268.1L225.3 269.1L225.8 264.6L226.3 262.5L226.8 261.3L227.3 262.9L227.7 260.8L228.2 260.0L228.7 259.8L229.2 260.1L229.7 262.5L230.1 263.9L230.6 260.2L231.1 261.2L231.6 261.1L232.1 260.7L232.5 266.8L233.0 267.7L233.5 267.1L234.0 267.0L234.5 268.8L234.9 268.1L235.4 269.5L235.9 272.2L236.4 272.7L236.9 270.1L237.3 269.0L237.8 270.9L238.3 264.8L238.8 262.8L239.3 259.8L239.7 260.7L240.2 260.2L240.7 260.9L241.2 254.7L241.7 257.0L242.1 254.5L242.6 257.9L243.1 257.4L243.6 260.2L244.1 258.8L244.5 255.0L245.0 257.7L245.5 253.4L246.0 253.5L246.5 255.7L246.9 254.5L247.4 253.8L247.9 251.9L248.4 251.4L248.9 251.5L249.3 250.3L249.8 250.6L250.3 250.8L250.8 248.0L251.3 244.8L251.7 248.5L252.2 246.3L252.7 247.1L253.2 247.4L253.7 243.3L254.1 244.7L254.6 240.6L255.1 244.1L255.6 242.8L256.1 243.3L256.5 244.4L257.0 241.2L257.5 241.7L258.0 239.4L258.5 239.4L258.9 240.8L259.4 238.2L259.9 236.0L260.4 232.6L260.9 234.8L261.3 235.2L261.8 239.9L262.3 237.6L262.8 240.9L263.3 243.0L263.7 239.4L264.2 236.1L264.7 239.6L265.2 239.6L265.7 238.9L266.1 239.2L266.6 233.5L267.1 232.8L267.6 230.5L268.1 225.0L268.5 225.1L269.0 222.5L269.5 224.2L270.0 224.9L270.5 225.0L270.9 218.3L271.4 220.9L271.9 221.3L272.4 222.1L272.9 222.1L273.3 221.8L273.8 218.8L274.3 222.1L274.8 224.6L275.3 223.5L275.7 223.2L276.2 217.6L276.7 216.1L277.2 218.7L277.7 220.1L278.1 217.6L278.6 212.3L279.1 218.5L279.6 212.4L280.1 213.0L280.5 207.2L281.0 209.2L281.5 207.9L282.0 209.1L282.5 207.7L282.9 201.1L283.4 200.9L283.9 203.3L284.4 205.5L284.9 209.2L285.3 208.0L285.8 207.3L286.3 208.3L286.8 209.3L287.3 212.1L287.7 210.0L288.2 208.7L288.7 204.6L289.2 202.7L289.7 204.8L290.1 208.2L290.6 209.4L291.1 212.5L291.6 214.8L292.1 215.7L292.5 219.7L293.0 215.9L293.5 215.9L294.0 214.9L294.5 215.1L294.9 216.3L295.4 216.7L295.9 214.5L296.4 214.0L296.9 210.0L297.3 208.0L297.8 209.4L298.3 204.6L298.8 205.3L299.3 203.9L299.7 202.9L300.2 207.2L300.7 203.2L301.2 202.1L301.7 202.6L302.1 206.9L302.6 211.3L303.1 212.3L303.6 208.2L304.1 205.8L304.5 201.6L305.0 201.6L305.5 198.4L306.0 196.5L306.5 196.3L306.9 196.3L307.4 193.6L307.9 197.6L308.4 192.7L308.9 191.1L309.3 190.1L309.8 188.9L310.3 191.0L310.8 191.3L311.3 190.5L311.7 192.0L312.2 194.3L312.7 200.8L313.2 200.5L313.7 201.2L314.1 204.0L314.6 208.3L315.1 210.9L315.6 202.5L316.1 199.5L316.5 205.0L317.0 202.0L317.5 207.1L318.0 209.3L318.5 210.2L318.9 208.4L319.4 212.0L319.9 212.6L320.4 210.1L320.9 210.8L321.3 214.8L321.8 217.2L322.3 221.2L322.8 222.8L323.3 221.8L323.7 223.2L324.2 226.0L324.7 227.0L325.2 233.1L325.7 232.7L326.1 228.9L326.6 226.8L327.1 223.3L327.6 222.2L328.1 222.3L328.5 219.3L329.0 220.9L329.5 221.8L330.0 216.4L330.5 215.7L330.9 213.9L331.4 217.2L331.9 215.0L332.4 216.9L332.9 219.4L333.3 223.9L333.8 223.1L334.3 221.6L334.8 223.0L335.3 225.7L335.7 223.8L336.2 220.3L336.7 223.7L337.2 220.4L337.7 216.1L338.1 213.1L338.6 208.8L339.1 208.7L339.6 209.7L340.1 209.2L340.5 207.6L341.0 211.3L341.5 211.7L342.0 210.4L342.5 208.8L342.9 212.8L343.4 213.6L343.9 212.5L344.4 208.9L344.9 209.9L345.3 206.6L345.8 211.0L346.3 210.5L346.8 210.1L347.3 208.0L347.7 206.4L348.2 212.0L348.7 212.8L349.2 211.9L349.7 221.6L350.1 231.7L350.6 235.6L351.1 244.0L351.6 247.7L352.1 249.9L352.5 247.8L353.0 249.7L353.5 247.5L354.0 250.8L354.5 251.8L354.9 249.6L355.4 250.8L355.9 246.6L356.4 244.7L356.9 244.8L357.3 241.0L357.8 239.6L358.3 237.2L358.8 239.7L359.3 240.0L359.7 236.4L360.2 233.3L360.7 232.7L361.2 236.4L361.7 238.8L362.1 237.7L362.6 241.1L363.1 244.1L363.6 243.5L364.1 243.8L364.5 247.8L365.0 252.5L365.5 255.6L366.0 254.4L366.5 258.4L366.9 260.5L367.4 262.4L367.9 264.3L368.4 268.0L368.9 269.8L369.3 274.6L369.8 274.3L370.3 272.4L370.8 266.0L371.3 264.3L371.7 263.0L372.2 259.9L372.7 256.9L373.2 253.3L373.7 256.0L374.1 254.9L374.6 252.4L375.1 245.6L375.6 243.9L376.1 244.3L376.5 241.5L377.0 236.3L377.5 239.1L378.0 240.4L378.5 238.2L378.9 239.5L379.4 239.4L379.9 242.3L380.4 238.0L380.9 237.1L381.3 239.1L381.8 239.5L382.3 244.0L382.8 241.5L383.3 241.3L383.7 241.1L384.2 243.7L384.7 249.5L385.2 256.3L385.7 256.9L386.1 256.6L386.6 253.3L387.1 251.0L387.6 248.5L388.1 248.6L388.5 243.1L389.0 241.6L389.5 238.2L390.0 236.2L390.5 241.4L390.9 251.0L391.4 255.2L391.9 260.5L392.4 262.6L392.9 260.0L393.3 262.8L393.8 258.7L394.3 260.5L394.8 256.9L395.3 255.8L395.7 255.6L396.2 254.9L396.7 256.1L397.2 256.8L397.7 258.2L398.1 256.8L398.6 252.1L399.1 251.2L399.6 251.4L400.1 252.7L400.5 254.9L401.0 250.4L401.5 250.8L402.0 250.0L402.5 249.1L402.9 247.5L403.4 247.8L403.9 246.8L404.4 247.9L404.9 246.5L405.3 241.1L405.8 242.7L406.3 243.2L406.8 241.8L407.3 240.7L407.7 242.7L408.2 241.1L408.7 237.4L409.2 236.8L409.7 235.8L410.1 232.4L410.6 234.9L411.1 233.6L411.6 234.0L412.1 229.8L412.5 235.3L413.0 234.5L413.5 233.2L414.0 230.4L414.5 228.9L414.9 227.0L415.4 232.4L415.9 228.5L416.4 228.5L416.9 228.7L417.3 225.0L417.8 226.9L418.3 229.4L418.8 226.1L419.3 227.7L419.7 225.7L420.2 222.2L420.7 221.1L421.2 218.7L421.7 220.5L422.1 224.8L422.6 224.3L423.1 224.1L423.6 224.9L424.1 223.1L424.5 226.6L425.0 232.0L425.5 229.4L426.0 231.8L426.5 233.0L426.9 234.5L427.4 234.1L427.9 235.2L428.4 232.7L428.9 233.5L429.3 233.7L429.8 233.7L430.3 238.1L430.8 238.0L431.3 239.1L431.7 239.1L432.2 242.8L432.7 239.4L433.2 242.1L433.7 245.5L434.1 247.6L434.6 245.8L435.1 244.8L435.6 245.7L436.1 244.9L436.5 247.3L437.0 246.7L437.5 249.3L438.0 249.2L438.5 247.4L438.9 246.5L439.4 251.1L439.9 253.0L440.4 255.2L440.9 253.1L441.3 256.4L441.8 257.1L442.3 256.9L442.8 260.3L443.3 263.1L443.7 265.3L444.2 270.9L444.7 272.9L445.2 273.7L445.7 275.3L446.1 275.0L446.6 277.4L447.1 275.3L447.6 272.0L448.1 270.8L448.5 271.3L449.0 272.8L449.5 270.8L450.0 272.0L450.5 273.3L450.9 272.7L451.4 268.3L451.9 268.3L452.4 266.1L452.9 268.5L453.3 266.4L453.8 267.6L454.3 266.5L454.8 261.1L455.3 261.7L455.7 264.6L456.2 265.0L456.7 264.9L457.2 263.2L457.7 265.7L458.1 265.6L458.6 261.1L459.1 257.0L459.6 252.8L460.1 250.1L460.5 252.8L461.0 253.4L461.5 257.7L462.0 255.7L462.5 253.3L462.9 255.2L463.4 256.1L463.9 256.7L464.4 253.5L464.9 257.0L465.3 256.2L465.8 254.5L466.3 253.5L466.8 256.3L467.3 256.6L467.7 258.6L468.2 259.5L468.7 258.2L469.2 258.5L469.7 255.2L470.1 251.2L470.6 252.3L471.1 249.8L471.6 246.6L472.1 250.2L472.5 249.2L473.0 251.6L473.5 248.3L474.0 245.5L474.5 245.7L474.9 249.6L475.4 248.7L475.9 249.5L476.4 249.0L476.9 245.6L477.3 250.1L477.8 246.2L478.3 246.6L478.8 243.0L479.3 243.3L479.7 244.8L480.2 242.2L480.7 239.2L481.2 238.9L481.7 237.1L482.1 237.9L482.6 239.1L483.1 234.2L483.6 231.7L484.1 230.9L484.5 230.3L485.0 231.1L485.5 235.3L486.0 238.6L486.5 239.7L486.9 236.7L487.4 240.8L487.9 236.7L488.4 238.9L488.9 240.4L489.3 236.4L489.8 239.0L490.3 242.2L490.8 241.8L491.3 239.8L491.7 238.6L492.2 241.6L492.7 240.8L493.2 239.6L493.7 241.5L494.1 239.5L494.6 239.6L495.1 240.2L495.6 240.5L496.1 240.6L496.5 241.2L497.0 243.4L497.5 244.7L498.0 242.8L498.5 245.1L498.9 243.6L499.4 242.5L499.9 243.0L500.4 239.6L500.9 245.7L501.3 245.2L501.8 248.1L502.3 245.9L502.8 247.1L503.3 255.1L503.7 256.9L504.2 254.3L504.7 252.1L505.2 250.6L505.7 251.8L506.1 250.2L506.6 248.8L507.1 248.9L507.6 246.8L508.1 251.9L508.5 248.2L509.0 250.0L509.5 246.3L510.0 247.0L510.5 248.4L510.9 245.1L511.4 246.3L511.9 245.9L512.4 246.3L512.9 243.0L513.3 240.0L513.8 237.8L514.3 239.7L514.8 238.2L515.3 239.6L515.7 239.8L516.2 238.0L516.7 236.2L517.2 237.9L517.7 238.2L518.1 237.7L518.6 236.6L519.1 237.6L519.6 233.7L520.1 235.3L520.5 233.5L521.0 235.8L521.5 234.0L522.0 233.2L522.5 234.7L522.9 229.4L523.4 231.1L523.9 228.3L524.4 228.8L524.9 232.0L525.3 231.4L525.8 228.5L526.3 227.5L526.8 226.0L527.3 226.1L527.7 228.9L528.2 225.7L528.7 228.7L529.2 223.7L529.7 224.0L530.1 224.5L530.6 223.9L531.1 223.2L531.6 226.8L532.1 229.6L532.5 229.3L533.0 231.9L533.5 230.2L534.0 225.7L534.5 229.4L534.9 227.6L535.4 232.3L535.9 231.0L536.4 232.0L536.9 232.7L537.3 231.7L537.8 230.1L538.3 233.2L538.8 235.1L539.3 238.6L539.7 236.3L540.2 236.0L540.7 233.2L541.2 234.0L541.7 230.5L542.1 236.4L542.6 234.4L543.1 232.0L543.6 235.1L544.1 238.1L544.5 239.6L545.0 243.1L545.5 241.8L546.0 239.3L546.5 239.8L546.9 244.7L547.4 246.4L547.9 246.4L548.4 243.6L548.9 246.4L549.3 247.3L549.8 244.4L550.3 243.7L550.8 245.5L551.3 248.1L551.7 249.9L552.2 248.9L552.7 252.2L553.2 250.1L553.7 253.2L554.1 253.7L554.6 253.1L555.1 255.5L555.6 261.6L556.1 258.5L556.5 256.0L557.0 258.2L557.5 257.9L558.0 255.7L558.5 257.0L558.9 250.9L559.4 255.1L559.9 253.3L560.4 250.1L560.9 248.6L561.3 245.6L561.8 244.1L562.3 245.1L562.8 244.7L563.3 252.6L563.7 251.9L564.2 254.1L564.7 250.4L565.2 247.3L565.7 247.3L566.1 245.5L566.6 243.7L567.1 246.8L567.6 252.1L568.1 251.3L568.5 253.5L569.0 260.2L569.5 259.4L570.0 255.4L570.5 257.5L570.9 259.0L571.4 261.2L571.9 263.0L572.4 263.8L572.9 265.4L573.3 264.7L573.8 267.6L574.3 267.8L574.8 268.8L575.3 266.6L575.7 266.9L576.2 265.3L576.7 262.1L577.2 262.1L577.7 261.5L578.1 261.6L578.6 261.7L579.1 261.7L579.6 261.7L580.1 259.1L580.5 260.9L581.0 255.4L581.5 255.1L582.0 255.3L582.5 253.8L582.9 252.7L583.4 248.8L583.9 248.3L584.4 243.9L584.9 245.0L585.3 248.0L585.8 245.3L586.3 248.0L586.8 245.7L587.3 244.1L587.7 245.8L588.2 251.2L588.7 253.1L589.2 249.8L589.7 251.7L590.1 253.0L590.6 252.0L591.1 249.5L591.6 250.6L592.1 253.2L592.5 252.2L593.0 249.5L593.5 249.2L594.0 248.4L594.5 245.5L594.9 247.6L595.4 246.9L595.9 247.0L596.4 244.9L596.9 249.6L597.3 250.6L597.8 250.9L598.3 249.0L598.8 246.3L599.3 248.6L599.7 249.7L600.2 251.3L600.7 250.0L601.2 244.8L601.7 242.3L602.1 241.8L602.6 238.8L603.1 235.4L603.6 232.8L604.1 234.2L604.5 233.1L605.0 235.5L605.5 234.3L606.0 227.8L606.5 233.0L606.9 231.2L607.4 230.0L607.9 231.2L608.4 231.8L608.9 231.0L609.3 230.6L609.8 229.7L610.3 232.4L610.8 229.0L611.3 228.8L611.7 227.3L612.2 224.9L612.7 223.5L613.2 222.3L613.7 225.0L614.1 222.2L614.6 220.2L615.1 219.6L615.6 218.7L616.1 222.2L616.5 223.2L617.0 221.2L617.5 224.9L618.0 222.2L618.5 223.1L618.9 223.4L619.4 226.7L619.9 226.2L620.4 224.2L620.9 221.7L621.3 221.0L621.8 223.8L622.3 225.4L622.8 228.0L623.3 226.0L623.7 226.5L624.2 224.8L624.7 222.8L625.2 223.5L625.7 227.0L626.1 226.3L626.6 226.3L627.1 226.6L627.6 222.4L628.1 224.6L628.5 229.9L629.0 227.9L629.5 227.0L630.0 230.7L630.5 233.4L630.9 234.8L631.4 234.7L631.9 234.6L632.4 233.1L632.9 231.1L633.3 229.7L633.8 228.0L634.3 227.9L634.8 231.3L635.3 228.4L635.7 226.6L636.2 227.8L636.7 225.6L637.2 228.2L637.7 230.1L638.1 225.5L638.6 225.8L639.1 225.8L639.6 223.9L640.1 223.0L640.5 223.5L641.0 229.5L641.5 229.4L642.0 228.8L642.5 229.8L642.9 228.6L643.4 227.1L643.9 230.7L644.4 232.6L644.9 226.1L645.3 228.6L645.8 230.5L646.3 227.3L646.8 225.4L647.3 226.3L647.7 224.4L648.2 227.7L648.7 230.4L649.2 229.5L649.7 229.6L650.1 233.1L650.6 233.3L651.1 233.8L651.6 228.0L652.1 231.1L652.5 227.5L653.0 228.9L653.5 229.4L654.0 226.6L654.5 225.0L654.9 223.2L655.4 224.5L655.9 227.0L656.4 227.2L656.9 225.7L657.3 226.0L657.8 224.9L658.3 227.1L658.8 226.9L659.3 232.0L659.7 241.4L660.2 251.8L660.7 259.2L661.2 260.5L661.7 257.0L662.1 261.5L662.6 260.1L663.1 262.0L663.6 261.7L664.1 263.5L664.5 266.6L665.0 264.6L665.5 261.9L666.0 258.3L666.5 256.6L666.9 253.5L667.4 249.0L667.9 253.2L668.4 249.7L668.9 250.3L669.3 247.1L669.8 243.8L670.3 244.4L670.8 243.9L671.3 249.1L671.7 245.1L672.2 247.4L672.7 246.2L673.2 247.3L673.7 252.4L674.1 253.1L674.6 251.6L675.1 249.7L675.6 252.6L676.1 255.0L676.5 259.3L677.0 256.2L677.5 255.5L678.0 259.4L678.5 262.0L678.9 264.6L679.4 260.1L679.9 253.5L680.4 252.3L680.9 249.2L681.3 248.3L681.8 249.5L682.3 244.3L682.8 247.1L683.3 244.9L683.7 242.1L684.2 239.2L684.7 238.2L685.2 237.3L685.7 238.7L686.1 239.3L686.6 235.8L687.1 235.3L687.6 235.4L688.1 234.6L688.5 232.4L689.0 233.7L689.5 232.8L690.0 232.2L690.5 227.3L690.9 224.8L691.4 222.0L691.9 225.6L692.4 226.6L692.9 223.1L693.3 224.1L693.8 223.7L694.3 219.9L694.8 222.7L695.3 224.9L695.7 225.3L696.2 221.7L696.7 220.0L697.2 222.8L697.7 222.9L698.1 219.7L698.6 217.8L699.1 219.4L699.6 217.2L700.1 216.4L700.5 220.5L701.0 217.8L701.5 215.4L702.0 216.8L702.5 220.4L702.9 219.8L703.4 217.8L703.9 216.9L704.4 225.1L704.9 220.0L705.3 228.3L705.8 227.2L706.3 227.6L706.8 230.1L707.3 231.5L707.7 236.0L708.2 234.0L708.7 236.8L709.2 238.7L709.7 232.6L710.1 235.2L710.6 235.1L711.1 241.9L711.6 240.4L712.1 240.0L712.5 240.2L713.0 239.6L713.5 240.5L714.0 236.4L714.5 237.2L714.9 234.6L715.4 228.9L715.9 228.6L716.4 225.1L716.9 223.3L717.3 219.6L717.8 221.2L718.3 226.2L718.8 225.8L719.3 231.0L719.7 231.9L720.2 230.4L720.7 234.2L721.2 230.3L721.7 229.8L722.1 224.5L722.6 218.1L723.1 220.0L723.6 219.3L724.1 222.4L724.5 223.7L725.0 223.5L725.5 218.0L726.0 216.1L726.5 218.1L726.9 223.5L727.4 223.2L727.9 226.1L728.4 224.6L728.9 226.0L729.3 227.1L729.8 227.1L730.3 229.7L730.8 230.3L731.3 233.5L731.7 232.1L732.2 234.2L732.7 232.4L733.2 233.9L733.7 232.7L734.1 232.4L734.6 237.3L735.1 238.2L735.6 239.3L736.1 236.9L736.5 234.4L737.0 233.9L737.5 235.4L738.0 230.6L738.5 234.8L738.9 227.8L739.4 227.5L739.9 226.8L740.4 216.6L740.9 213.5L741.3 216.6L741.8 215.0L742.3 216.0L742.8 214.8L743.3 217.7L743.7 216.8L744.2 214.2L744.7 213.4L745.2 210.5L745.7 211.7L746.1 207.9L746.6 211.4L747.1 210.0L747.6 213.4L748.1 212.6L748.5 204.9L749.0 207.0L749.5 203.1L750.0 202.9L750.5 203.4L750.9 198.5L751.4 196.6L751.9 199.6L752.4 200.1L752.9 203.1L753.3 210.4L753.8 217.2L754.3 219.8L754.8 223.7L755.3 222.2L755.7 221.0L756.2 222.9L756.7 226.4L757.2 228.2L757.7 230.0L758.1 230.4L758.6 230.6L759.1 229.6L759.6 229.3L760.1 227.6L760.5 228.9L761.0 226.2L761.5 225.2L762.0 216.8L762.5 214.0L762.9 208.5L763.4 208.1L763.9 204.6L764.4 205.6L764.9 202.2L765.3 193.9L765.8 198.2L766.3 191.3L766.8 185.5L767.3 184.6L767.7 182.9L768.2 182.1L768.7 186.7L769.2 185.3L769.7 188.5L770.1 189.4L770.6 189.2L771.1 187.3L771.6 182.7L772.1 178.3L772.5 179.3L773.0 168.3L773.5 164.9L774.0 162.8L774.5 162.0L774.9 159.4L775.4 154.9L775.9 152.7L776.4 158.8L776.9 156.4L777.3 153.7L777.8 162.9L778.3 158.7L778.8 159.2L779.3 160.7L779.7 156.3L780.2 161.9L780.7 159.7L781.2 155.9L781.7 162.4L782.1 166.4L782.6 168.9L783.1 173.4L783.6 172.2L784.1 181.0L784.5 181.2L785.0 189.5L785.5 187.4L786.0 188.9L786.5 195.8L786.9 193.6L787.4 196.1L787.9 196.3L788.4 193.1L788.9 198.2L789.3 196.3L789.8 186.7L790.3 184.7L790.8 177.6L791.3 178.0L791.7 182.8L792.2 182.1L792.7 178.8L793.2 178.2L793.7 181.3L794.1 182.8L794.6 183.6L795.1 183.2L795.6 175.9L796.1 177.8L796.5 180.4L797.0 178.6L797.5 175.1L798.0 173.0L798.5 173.8L798.9 175.8L799.4 174.3L799.9 178.0L800.4 178.1L800.9 173.4L801.3 176.0L801.8 175.6L802.3 174.4L802.8 176.2L803.3 178.8L803.7 174.8L804.2 177.5L804.7 180.9L805.2 179.2L805.7 179.3L806.1 182.3L806.6 180.8L807.1 181.3L807.6 185.8L808.1 183.1L808.5 183.8L809.0 185.3L809.5 189.4L810.0 188.9L810.5 186.6L810.9 185.0L811.4 187.6L811.9 183.6L812.4 186.6L812.9 184.7L813.3 179.4L813.8 183.1L814.3 183.7L814.8 180.5L815.3 182.7L815.7 182.5L816.2 181.0L816.7 178.4L817.2 185.4L817.7 184.1L818.1 184.6L818.6 184.8L819.1 184.2L819.6 185.0L820.1 182.5L820.5 185.4L821.0 185.0L821.5 185.3L822.0 189.0L822.5 188.5L822.9 185.2L823.4 185.9L823.9 186.7L824.4 183.7L824.9 183.1L825.3 178.0L825.8 176.6L826.3 182.1L826.8 183.0L827.3 181.1L827.7 185.6L828.2 183.5L828.7 184.5L829.2 182.7L829.7 179.5L830.1 171.8L830.6 172.9L831.1 172.8L831.6 172.7L832.1 171.6L832.5 168.4L833.0 168.2L833.5 163.2L834.0 165.6L834.5 162.6L834.9 164.1L835.4 165.7L835.9 171.5L836.4 171.4L836.9 172.1L837.3 173.5L837.8 176.4L838.3 168.9L838.8 168.8L839.3 167.4L839.7 165.2L840.2 164.0L840.7 160.7L841.2 164.1L841.7 164.3L842.1 161.2L842.6 160.6L843.1 162.0L843.6 163.0L844.1 164.6L844.5 163.2L845.0 159.3L845.5 163.9L846.0 158.4L846.5 158.0L846.9 161.8L847.4 162.8L847.9 171.6L848.4 177.0L848.9 179.8L849.3 179.0L849.8 178.3L850.3 178.9L850.8 178.2L851.3 184.2L851.7 177.3L852.2 176.5L852.7 171.5L853.2 166.7L853.7 165.3L854.1 164.6L854.6 164.0L855.1 161.1L855.6 158.5L856.1 158.1L856.5 161.6L857.0 162.7L857.5 163.2L858.0 159.6L858.5 164.9L858.9 158.9L859.4 161.9L859.9 164.2L860.4 162.1L860.9 160.7L861.3 161.6L861.8 159.7L862.3 161.6L862.8 158.9L863.3 157.3L863.7 159.4L864.2 155.3L864.7 156.3L865.2 153.8L865.7 153.7L866.1 150.3L866.6 144.4L867.1 145.4L867.6 138.9L868.1 136.2L868.5 133.6L869.0 142.5L869.5 142.9L870.0 143.8L870.5 150.0L870.9 150.3L871.4 156.9L871.9 153.1L872.4 155.8L872.9 154.1L873.3 161.0L873.8 158.1L874.3 159.5L874.8 156.4L875.3 158.7L875.7 158.4L876.2 151.4L876.7 156.0L877.2 158.4L877.7 158.7L878.1 160.9L878.6 156.1L879.1 154.1L879.6 158.5L880.1 160.9L880.5 156.1L881.0 153.5L881.5 152.1L882.0 150.3L882.5 155.8L882.9 156.8L883.4 161.7L883.9 163.5L884.4 159.5L884.9 165.0L885.3 164.8L885.8 173.2L886.3 181.3L886.8 175.9L887.3 170.5L887.7 169.6L888.2 171.6L888.7 166.9L889.2 160.9L889.7 161.0L890.1 159.2L890.6 152.2L891.1 150.1L891.6 150.1L892.1 149.2L892.5 152.2L893.0 151.0L893.5 152.4L894.0 152.0L894.5 154.5L894.9 162.5L895.4 159.9L895.9 153.6L896.4 150.1L896.9 144.4L897.3 143.9L897.8 143.1L898.3 137.9L898.8 140.7L899.3 142.9L899.7 135.2L900.2 136.7L900.7 135.3L901.2 137.6L901.7 136.3L902.1 133.5L902.6 128.8L903.1 123.6L903.6 127.7L904.1 122.6L904.5 126.3L905.0 128.0L905.5 124.1L906.0 125.9L906.5 130.8L906.9 125.1L907.4 131.0L907.9 130.8L908.4 131.3L908.9 128.6L909.3 131.6L909.8 128.8L910.3 132.7L910.8 128.9L911.3 132.8L911.7 133.6L912.2 128.3" stroke="#ED7D31"/>
<path d="M41.5 392.8L42.0 394.5L42.5 397.3L42.9 400.8L43.4 400.3L43.9 397.8L44.4 393.9L44.9 391.3L45.3 392.5L45.8 392.5L46.3 390.7L46.8 389.3L47.3 386.5L47.7 385.2L48.2 381.6L48.7 377.4L49.2 379.8L49.7 381.8L50.1 386.1L50.6 388.5L51.1 391.7L51.6 390.1L52.1 390.2L52.5 388.1L53.0 387.4L53.5 387.7L54.0 390.1L54.5 388.2L54.9 386.4L55.4 385.1L55.9 386.8L56.4 383.6L56.9 381.6L57.3 379.1L57.8 373.9L58.3 373.3L58.8 371.2L59.3 368.2L59.7 368.0L60.2 365.9L60.7 364.0L61.2 362.5L61.7 363.6L62.1 361.8L62.6 359.1L63.1 363.5L63.6 363.2L64.1 365.3L64.5 368.2L65.0 366.8L65.5 369.3L66.0 369.2L66.5 364.3L66.9 360.0L67.4 358.6L67.9 355.3L68.4 354.0L68.9 351.0L69.3 348.6L69.8 350.8L70.3 350.1L70.8 350.7L71.3 350.0L71.7 351.5L72.2 351.0L72.7 350.1L73.2 348.5L73.7 347.5L74.1 350.1L74.6 350.2L75.1 348.5L75.6 351.1L76.1 348.0L76.5 345.3L77.0 341.3L77.5 339.6L78.0 339.3L78.5 337.8L78.9 336.3L79.4 333.0L79.9 334.0L80.4 333.5L80.9 332.0L81.3 331.6L81.8 331.0L82.3 331.7L82.8 330.0L83.3 328.9L83.7 324.1L84.2 321.5L84.7 319.9L85.2 316.6L85.7 315.0L86.1 310.4L86.6 311.1L87.1 311.5L87.6 315.2L88.1 314.9L88.5 318.6L89.0 321.0L89.5 320.8L90.0 324.4L90.5 326.9L90.9 329.2L91.4 335.4L91.9 340.0L92.4 343.3L92.9 346.0L93.3 345.0L93.8 343.9L94.3 341.6L94.8 340.0L95.3 340.7L95.7 338.6L96.2 338.8L96.7 342.4L97.2 343.4L97.7 346.9L98.1 347.1L98.6 349.6L99.1 352.1L99.6 352.8L100.1 350.2L100.5 350.4L101.0 347.6L101.5 343.4L102.0 343.9L102.5 338.8L102.9 339.9L103.4 335.7L103.9 335.5L104.4 332.6L104.9 331.3L105.3 332.1L105.8 327.4L106.3 324.5L106.8 324.5L107.3 325.8L107.7 326.8L108.2 328.4L108.7 326.3L109.2 328.2L109.7 328.8L110.1 330.5L110.6 331.6L111.1 333.1L111.6 328.4L112.1 327.7L112.5 325.0L113.0 324.4L113.5 324.2L114.0 322.3L114.5 321.1L114.9 321.1L115.4 322.5L115.9 323.5L116.4 325.9L116.9 324.5L117.3 319.3L117.8 319.5L118.3 318.7L118.8 315.3L119.3 311.5L119.7 312.8L120.2 311.8L120.7 312.0L121.2 313.3L121.7 309.7L122.1 309.6L122.6 309.2L123.1 310.0L123.6 308.3L124.1 309.2L124.5 308.7L125.0 309.9L125.5 310.5L126.0 306.6L126.5 308.1L126.9 307.4L127.4 306.9L127.9 304.7L128.4 301.7L128.9 297.2L129.3 295.2L129.8 292.2L130.3 288.8L130.8 285.4L131.3 285.6L131.7 286.4L132.2 288.2L132.7 289.7L133.2 286.9L133.7 285.9L134.1 290.5L134.6 294.1L135.1 298.2L135.6 302.0L136.1 303.7L136.5 303.6L137.0 299.0L137.5 300.4L138.0 296.1L138.5 293.5L138.9 290.2L139.4 288.1L139.9 288.7L140.4 293.2L140.9 295.0L141.3 292.6L141.8 294.3L142.3 293.4L142.8 292.4L143.3 296.7L143.7 298.4L144.2 296.3L144.7 295.1L145.2 293.6L145.7 291.7L146.1 291.5L146.6 291.5L147.1 288.2L147.6 287.5L148.1 287.9L148.5 284.5L149.0 284.3L149.5 283.2L150.0 285.2L150.5 285.3L150.9 285.7L151.4 285.5L151.9 283.8L152.4 284.4L152.9 282.4L153.3 281.5L153.8 278.6L154.3 281.9L154.8 278.8L155.3 279.1L155.7 278.4L156.2 279.9L156.7 278.3L157.2 275.3L157.7 275.4L158.1 274.3L158.6 274.3L159.1 271.0L159.6 270.8L160.1 274.0L160.5 272.1L161.0 273.4L161.5 273.2L162.0 271.0L162.5 269.0L162.9 271.2L163.4 275.6L163.9 278.2L164.4 276.4L164.9 278.5L165.3 280.2L165.8 281.9L166.3 282.9L166.8 282.6L167.3 283.5L167.7 285.3L168.2 288.5L168.7 287.6L169.2 289.9L169.7 287.7L170.1 291.4L170.6 291.5L171.1 291.4L171.6 294.1L172.1 290.3L172.5 289.8L173.0 291.4L173.5 289.3L174.0 288.9L174.5 291.3L174.9 287.9L175.4 286.4L175.9 285.2L176.4 286.3L176.9 285.2L177.3 284.5L177.8 281.4L178.3 281.3L178.8 281.2L179.3 278.3L179.7 280.8L180.2 280.9L180.7 282.1L181.2 278.3L181.7 277.4L182.1 277.2L182.6 277.5L183.1 278.8L183.6 278.2L184.1 277.8L184.5 276.5L185.0 274.6L185.5 270.4L186.0 270.2L186.5 270.6L186.9 270.8L187.4 270.0L187.9 264.3L188.4 263.6L188.9 263.8L189.3 264.4L189.8 265.8L190.3 263.6L190.8 260.7L191.3 262.8L191.7 264.0L192.2 265.2L192.7 266.0L193.2 269.8L193.7 269.4L194.1 271.6L194.6 270.6L195.1 274.3L195.6 274.6L196.1 274.4L196.5 278.7L197.0 281.7L197.5 282.7L198.0 283.8L198.5 286.3L198.9 285.2L199.4 283.9L199.9 286.9L200.4 288.5L200.9 292.5L201.3 293.6L201.8 298.2L202.3 301.7L202.8 301.2L203.3 306.7L203.7 307.7L204.2 304.3L204.7 302.9L205.2 299.4L205.7 294.4L206.1 294.5L206.6 294.7L207.1 294.5L207.6 291.7L208.1 287.0L208.5 285.7L209.0 287.7L209.5 287.6L210.0 286.2L210.5 283.6L210.9 283.4L211.4 282.6L211.9 282.1L212.4 282.9L212.9 282.8L213.3 282.3L213.8 284.3L214.3 285.6L214.8 286.0L215.3 289.4L215.7 292.9L216.2 298.6L216.7 299.0L217.2 300.3L217.7 298.7L218.1 293.7L218.6 291.8L219.1 291.8L219.6 294.2L220.1 292.2L220.5 291.0L221.0 287.3L221.5 284.6L222.0 284.6L222.5 285.9L222.9 286.5L223.4 283.7L223.9 282.2L224.4 282.9L224.9 280.7L225.3 281.7L225.8 278.2L226.3 277.1L226.8 276.7L227.3 279.0L227.7 277.8L228.2 277.9L228.7 278.2L229.2 277.8L229.7 279.3L230.1 281.2L230.6 278.5L231.1 280.2L231.6 280.9L232.1 281.0L232.5 286.6L233.0 287.6L233.5 287.2L234.0 287.4L234.5 287.3L234.9 284.8L235.4 285.2L235.9 286.8L236.4 286.4L236.9 283.1L237.3 282.0L237.8 284.4L238.3 279.4L238.8 278.2L239.3 276.1L239.7 277.6L240.2 277.8L240.7 278.9L241.2 273.5L241.7 276.0L242.1 274.0L242.6 277.5L243.1 277.4L243.6 280.3L244.1 279.3L244.5 276.3L245.0 278.5L245.5 274.5L246.0 274.3L246.5 276.1L246.9 274.8L247.4 274.0L247.9 272.1L248.4 271.5L248.9 271.6L249.3 270.4L249.8 270.7L250.3 270.7L250.8 268.0L251.3 264.9L251.7 268.1L252.2 265.9L252.7 266.6L253.2 266.8L253.7 263.0L254.1 264.2L254.6 260.3L255.1 263.2L255.6 261.6L256.1 261.8L256.5 262.5L257.0 258.3L257.5 257.6L258.0 254.9L258.5 254.5L258.9 257.0L259.4 256.6L259.9 256.5L260.4 255.4L260.9 259.1L261.3 259.0L261.8 262.9L262.3 259.4L262.8 260.9L263.3 262.5L263.7 259.4L264.2 256.6L264.7 260.0L265.2 260.2L265.7 259.7L266.1 260.3L266.6 254.2L267.1 252.5L267.6 249.5L268.1 243.4L268.5 243.4L269.0 241.7L269.5 244.1L270.0 245.4L270.5 246.3L270.9 239.9L271.4 242.1L271.9 242.2L272.4 242.7L272.9 242.3L273.3 241.3L273.8 238.0L274.3 241.1L274.8 243.4L275.3 242.4L275.7 242.1L276.2 235.7L276.7 232.4L277.2 233.3L277.7 233.3L278.1 230.4L278.6 226.6L279.1 233.8L279.6 229.9L280.1 232.2L280.5 228.5L281.0 232.1L281.5 232.6L282.0 235.4L282.5 235.2L282.9 229.0L283.4 228.7L283.9 230.6L284.4 232.3L284.9 234.5L285.3 231.8L285.8 230.1L286.3 230.4L286.8 231.5L287.3 235.4L287.7 234.8L288.2 234.9L288.7 232.6L289.2 232.3L289.7 235.5L290.1 238.7L290.6 238.5L291.1 240.0L291.6 240.8L292.1 240.0L292.5 240.4L293.0 235.9L293.5 234.9L294.0 233.0L294.5 232.2L294.9 232.4L295.4 231.8L295.9 228.8L296.4 227.7L296.9 225.6L297.3 225.4L297.8 228.4L298.3 225.6L298.8 227.9L299.3 226.8L299.7 226.4L300.2 232.4L300.7 230.9L301.2 232.1L301.7 234.7L302.1 233.9L302.6 232.8L303.1 232.2L303.6 229.4L304.1 228.0L304.5 225.0L305.0 225.8L305.5 222.6L306.0 220.7L306.5 220.2L306.9 220.0L307.4 217.2L307.9 220.6L308.4 216.5L308.9 216.4L309.3 216.8L309.8 217.1L310.3 220.2L310.8 222.5L311.3 223.9L311.7 227.4L312.2 231.5L312.7 236.5L313.2 231.5L313.7 227.3L314.1 224.9L314.6 223.9L315.1 230.3L315.6 228.4L316.1 231.4L316.5 238.5L317.0 236.9L317.5 242.3L318.0 244.8L318.5 244.6L318.9 242.1L319.4 245.0L319.9 245.3L320.4 242.9L320.9 243.3L321.3 246.7L321.8 249.0L322.3 252.3L322.8 252.7L323.3 250.7L323.7 250.9L324.2 252.4L324.7 250.5L325.2 252.4L325.7 250.4L326.1 247.0L326.6 245.2L327.1 242.1L327.6 241.1L328.1 242.3L328.5 240.6L329.0 242.4L329.5 243.2L330.0 238.2L330.5 237.5L330.9 236.4L331.4 241.6L331.9 241.7L332.4 243.5L332.9 245.7L333.3 249.7L333.8 249.0L334.3 246.3L334.8 244.5L335.3 245.0L335.7 243.6L336.2 240.9L336.7 244.4L337.2 241.8L337.7 238.6L338.1 236.8L338.6 233.4L339.1 233.4L339.6 234.5L340.1 234.2L340.5 232.9L341.0 235.5L341.5 235.3L342.0 233.6L342.5 231.4L342.9 235.4L343.4 237.1L343.9 237.1L344.4 234.2L344.9 235.6L345.3 233.0L345.8 237.4L346.3 236.6L346.8 235.8L347.3 234.7L347.7 235.3L348.2 242.2L348.7 244.8L349.2 246.8L349.7 262.5L350.1 278.4L350.6 276.4L351.1 276.1L351.6 276.0L352.1 277.4L352.5 275.1L353.0 276.2L353.5 273.8L354.0 275.1L354.5 274.4L354.9 270.8L355.4 270.3L355.9 266.2L356.4 265.0L356.9 266.1L357.3 264.2L357.8 264.4L358.3 262.0L358.8 264.1L359.3 264.2L359.7 260.7L360.2 258.5L360.7 259.0L361.2 262.7L361.7 264.1L362.1 262.4L362.6 264.7L363.1 266.6L363.6 267.8L364.1 270.4L364.5 275.6L365.0 281.2L365.5 284.8L366.0 284.1L366.5 288.0L366.9 290.3L367.4 292.4L367.9 294.4L368.4 298.1L368.9 295.5L369.3 294.2L369.8 290.4L370.3 287.8L370.8 281.4L371.3 281.4L371.7 281.9L372.2 280.5L372.7 279.3L373.2 277.0L373.7 279.8L374.1 278.6L374.6 275.7L375.1 269.1L375.6 267.8L376.1 268.2L376.5 265.9L377.0 261.5L377.5 264.3L378.0 265.8L378.5 264.2L378.9 265.7L379.4 266.0L379.9 268.9L380.4 265.4L380.9 266.0L381.3 269.2L381.8 271.0L382.3 276.3L382.8 275.6L383.3 276.9L383.7 277.2L384.2 277.7L384.7 281.1L385.2 281.1L385.7 275.7L386.1 273.7L386.6 270.7L387.1 268.6L387.6 266.2L388.1 268.1L388.5 267.6L389.0 270.6L389.5 272.2L390.0 274.9L390.5 279.5L390.9 286.4L391.4 286.9L391.9 286.4L392.4 284.0L392.9 281.9L393.3 284.6L393.8 281.1L394.3 283.0L394.8 280.1L395.3 279.3L395.7 279.1L396.2 278.1L396.7 278.8L397.2 279.1L397.7 280.0L398.1 278.3L398.6 273.7L399.1 272.5L399.6 272.2L400.1 273.1L400.5 275.3L401.0 271.3L401.5 271.8L402.0 271.2L402.5 270.6L402.9 269.2L403.4 269.5L403.9 268.4L404.4 269.4L404.9 268.1L405.3 263.0L405.8 264.4L406.3 264.8L406.8 263.4L407.3 262.2L407.7 264.4L408.2 263.1L408.7 260.0L409.2 259.7L409.7 259.2L410.1 256.3L410.6 258.8L411.1 257.8L411.6 258.3L412.1 254.6L412.5 259.7L413.0 259.1L413.5 258.1L414.0 255.6L414.5 254.5L414.9 252.9L415.4 257.7L415.9 254.3L416.4 254.3L416.9 254.5L417.3 251.3L417.8 253.0L418.3 255.3L418.8 252.4L419.3 254.0L419.7 252.4L420.2 249.6L420.7 249.0L421.2 247.1L421.7 248.4L422.1 251.8L422.6 251.6L423.1 252.6L423.6 254.2L424.1 252.4L424.5 255.3L425.0 259.8L425.5 257.4L426.0 258.9L426.5 258.8L426.9 259.8L427.4 260.0L427.9 261.4L428.4 259.7L428.9 260.9L429.3 261.7L429.8 262.3L430.3 266.1L430.8 265.4L431.3 265.7L431.7 265.1L432.2 267.8L432.7 263.9L433.2 265.6L433.7 268.9L434.1 271.1L434.6 269.7L435.1 269.0L435.6 270.2L436.1 269.8L436.5 272.6L437.0 272.8L437.5 275.8L438.0 276.5L438.5 275.6L438.9 275.5L439.4 280.1L439.9 282.3L440.4 284.6L440.9 283.4L441.3 286.6L441.8 287.7L442.3 288.1L442.8 291.1L443.3 293.4L443.7 295.1L444.2 299.8L444.7 300.8L445.2 298.3L445.7 296.4L446.1 296.0L446.6 298.2L447.1 296.3L447.6 293.4L448.1 292.2L448.5 291.9L449.0 292.7L449.5 290.1L450.0 290.5L450.5 291.1L450.9 289.9L451.4 286.1L451.9 286.9L452.4 285.6L452.9 288.6L453.3 287.5L453.8 289.3L454.3 289.1L454.8 283.3L455.3 282.8L455.7 283.5L456.2 281.6L456.7 279.0L457.2 275.1L457.7 275.7L458.1 278.8L458.6 277.7L459.1 277.0L459.6 276.3L460.1 274.4L460.5 276.4L461.0 276.4L461.5 279.7L462.0 277.3L462.5 274.5L462.9 275.8L463.4 276.8L463.9 277.7L464.4 276.2L464.9 281.0L465.3 281.9L465.8 282.1L466.3 282.1L466.8 281.8L467.3 279.3L467.7 278.5L468.2 276.5L468.7 274.8L469.2 275.0L469.7 272.9L470.1 270.6L470.6 273.1L471.1 272.3L471.6 270.8L472.1 273.8L472.5 272.6L473.0 274.5L473.5 271.3L474.0 268.9L474.5 269.4L474.9 273.4L475.4 273.4L475.9 274.8L476.4 275.1L476.9 272.9L477.3 277.7L477.8 275.0L478.3 275.5L478.8 272.3L479.3 272.4L479.7 273.6L480.2 271.2L480.7 268.4L481.2 268.0L481.7 266.1L482.1 266.5L482.6 267.2L483.1 262.5L483.6 261.1L484.1 263.2L484.5 265.1L485.0 265.8L485.5 269.3L486.0 272.1L486.5 273.0L486.9 270.3L487.4 273.7L487.9 270.0L488.4 271.8L488.9 272.9L489.3 268.8L489.8 270.2L490.3 272.8L490.8 272.4L491.3 270.5L491.7 269.4L492.2 272.2L492.7 272.1L493.2 271.7L493.7 274.0L494.1 272.9L494.6 273.6L495.1 274.8L495.6 275.1L496.1 274.8L496.5 275.0L497.0 276.5L497.5 277.4L498.0 275.8L498.5 277.8L498.9 277.6L499.4 277.7L499.9 279.4L500.4 277.6L500.9 283.2L501.3 282.0L501.8 283.4L502.3 279.5L502.8 278.5L503.3 283.5L503.7 283.0L504.2 280.2L504.7 278.4L505.2 277.4L505.7 279.0L506.1 278.1L506.6 277.3L507.1 277.9L507.6 276.0L508.1 280.3L508.5 277.0L509.0 278.5L509.5 274.8L510.0 274.6L510.5 275.1L510.9 272.2L511.4 273.3L511.9 272.9L512.4 273.3L512.9 270.8L513.3 268.7L513.8 266.9L514.3 268.5L514.8 267.0L515.3 268.0L515.7 268.0L516.2 266.2L516.7 264.5L517.2 266.0L517.7 266.4L518.1 266.1L518.6 265.4L519.1 266.4L519.6 263.2L520.1 264.8L520.5 263.5L521.0 265.7L521.5 264.0L522.0 263.3L522.5 264.5L522.9 259.8L523.4 261.2L523.9 258.7L524.4 259.0L524.9 261.9L525.3 261.5L525.8 259.0L526.3 258.2L526.8 257.0L527.3 257.1L527.7 259.9L528.2 257.9L528.7 261.2L529.2 257.6L529.7 258.6L530.1 259.1L530.6 258.4L531.1 257.6L531.6 260.6L532.1 262.9L532.5 262.6L533.0 264.8L533.5 263.5L534.0 259.8L534.5 263.2L534.9 261.8L535.4 266.1L535.9 265.1L536.4 266.0L536.9 266.4L537.3 265.3L537.8 263.3L538.3 265.5L538.8 266.7L539.3 269.1L539.7 267.4L540.2 267.7L540.7 266.0L541.2 267.4L541.7 265.1L542.1 270.9L542.6 269.9L543.1 267.2L543.6 268.9L544.1 270.9L544.5 272.0L545.0 274.7L545.5 273.2L546.0 270.9L546.5 271.9L546.9 276.7L547.4 278.2L547.9 278.3L548.4 275.9L548.9 278.4L549.3 279.3L549.8 277.0L550.3 276.8L550.8 279.3L551.3 282.6L551.7 285.1L552.2 285.3L552.7 288.3L553.2 286.3L553.7 288.1L554.1 286.9L554.6 284.7L555.1 285.1L555.6 288.6L556.1 286.4L556.5 284.7L557.0 286.4L557.5 285.6L558.0 283.1L558.5 283.7L558.9 277.8L559.4 281.5L559.9 279.9L560.4 278.7L560.9 279.2L561.3 278.3L561.8 278.6L562.3 279.9L562.8 278.4L563.3 283.7L563.7 279.9L564.2 278.8L564.7 276.1L565.2 274.0L565.7 277.5L566.1 280.3L566.6 281.0L567.1 283.3L567.6 287.1L568.1 284.9L568.5 285.3L569.0 291.7L569.5 291.6L570.0 288.8L570.5 291.2L570.9 292.6L571.4 294.0L571.9 295.0L572.4 294.3L572.9 294.4L573.3 292.4L573.8 293.6L574.3 293.6L574.8 294.5L575.3 292.7L575.7 293.0L576.2 291.7L576.7 288.9L577.2 289.0L577.7 288.6L578.1 288.8L578.6 288.9L579.1 289.1L579.6 289.2L580.1 287.0L580.5 288.7L581.0 283.8L581.5 283.5L582.0 283.6L582.5 282.3L582.9 281.3L583.4 277.8L583.9 278.2L584.4 275.7L584.9 278.1L585.3 281.9L585.8 280.8L586.3 282.5L586.8 279.8L587.3 278.0L587.7 279.2L588.2 283.5L588.7 284.8L589.2 281.8L589.7 283.9L590.1 285.2L590.6 282.6L591.1 278.6L591.6 277.9L592.1 278.4L592.5 278.8L593.0 278.8L593.5 281.0L594.0 282.7L594.5 282.3L594.9 284.2L595.4 283.7L595.9 283.2L596.4 280.7L596.9 284.0L597.3 284.2L597.8 284.2L598.3 282.9L598.8 280.5L599.3 281.2L599.7 280.8L600.2 280.8L600.7 278.3L601.2 273.7L601.7 272.2L602.1 273.2L602.6 272.6L603.1 271.3L603.6 269.5L604.1 271.0L604.5 270.4L605.0 272.8L605.5 272.3L606.0 267.3L606.5 271.9L606.9 270.1L607.4 268.8L607.9 269.5L608.4 269.8L608.9 268.1L609.3 266.9L609.8 265.9L610.3 268.5L610.8 265.8L611.3 265.9L611.7 264.9L612.2 263.2L612.7 262.3L613.2 261.6L613.7 264.3L614.1 262.3L614.6 260.9L615.1 260.7L615.6 260.2L616.1 263.4L616.5 264.4L617.0 262.9L617.5 266.2L618.0 264.2L618.5 264.9L618.9 265.0L619.4 267.6L619.9 267.1L620.4 265.3L620.9 263.0L621.3 262.3L621.8 264.3L622.3 265.5L622.8 267.3L623.3 265.4L623.7 265.6L624.2 263.9L624.7 262.1L625.2 263.7L625.7 267.6L626.1 268.0L626.6 269.0L627.1 268.8L627.6 264.7L628.1 266.2L628.5 270.6L629.0 269.0L629.5 268.3L630.0 271.6L630.5 274.0L630.9 275.4L631.4 273.6L631.9 271.6L632.4 269.5L632.9 267.9L633.3 266.7L633.8 265.2L634.3 265.1L634.8 269.5L635.3 268.6L635.7 267.3L636.2 268.5L636.7 266.8L637.2 269.2L637.7 271.4L638.1 268.1L638.6 268.9L639.1 269.5L639.6 268.6L640.1 268.4L640.5 269.3L641.0 273.3L641.5 272.1L642.0 270.5L642.5 270.2L642.9 267.9L643.4 265.5L643.9 267.4L644.4 268.9L644.9 263.6L645.3 266.7L645.8 269.8L646.3 268.8L646.8 268.8L647.3 271.2L647.7 270.1L648.2 272.8L648.7 274.8L649.2 272.5L649.7 270.9L650.1 272.3L650.6 270.8L651.1 270.9L651.6 266.3L652.1 269.4L652.5 267.0L653.0 268.9L653.5 269.4L654.0 267.1L654.5 265.9L654.9 264.5L655.4 265.7L655.9 269.1L656.4 270.6L656.9 269.9L657.3 270.3L657.8 270.4L658.3 275.8L658.8 279.1L659.3 282.1L659.7 288.4L660.2 294.0L660.7 295.4L661.2 296.3L661.7 293.2L662.1 296.8L662.6 296.0L663.1 298.2L663.6 298.6L664.1 299.5L664.5 299.3L665.0 297.8L665.5 295.6L666.0 292.7L666.5 291.5L666.9 289.1L667.4 285.7L667.9 289.7L668.4 287.2L668.9 288.1L669.3 285.9L669.8 283.5L670.3 284.4L670.8 284.0L671.3 288.5L671.7 285.3L672.2 287.3L672.7 286.4L673.2 287.4L673.7 291.8L674.1 292.2L674.6 290.8L675.1 289.0L675.6 291.2L676.1 293.0L676.5 296.5L677.0 293.7L677.5 291.1L678.0 292.0L678.5 291.8L678.9 291.9L679.4 288.8L679.9 283.8L680.4 283.5L680.9 282.1L681.3 282.7L681.8 284.8L682.3 280.6L682.8 283.1L683.3 281.4L683.7 279.3L684.2 277.0L684.7 276.5L685.2 276.0L685.7 277.2L686.1 277.7L686.6 274.8L687.1 274.4L687.6 274.5L688.1 273.8L688.5 272.1L689.0 273.6L689.5 273.3L690.0 273.2L690.5 269.6L690.9 267.9L691.4 266.2L691.9 269.8L692.4 270.2L692.9 267.0L693.3 267.4L693.8 266.8L694.3 263.2L694.8 265.0L695.3 266.3L695.7 266.3L696.2 262.9L696.7 261.6L697.2 264.7L697.7 265.5L698.1 263.6L698.6 262.7L699.1 264.8L699.6 263.7L700.1 263.6L700.5 267.3L701.0 265.6L701.5 264.0L702.0 265.5L702.5 269.0L702.9 269.2L703.4 268.3L703.9 268.2L704.4 275.6L704.9 271.4L705.3 277.6L705.8 276.3L706.3 276.1L706.8 277.7L707.3 279.6L707.7 284.0L708.2 282.8L708.7 285.3L709.2 287.1L709.7 282.6L710.1 284.9L710.6 284.6L711.1 289.7L711.6 286.8L712.1 283.9L712.5 281.7L713.0 281.8L713.5 283.1L714.0 280.3L714.5 281.5L714.9 279.9L715.4 275.8L715.9 276.1L716.4 273.9L716.9 272.9L717.3 269.4L717.8 269.8L718.3 272.9L718.8 271.6L719.3 274.9L719.7 274.7L720.2 272.4L720.7 275.6L721.2 273.5L721.7 274.3L722.1 271.2L722.6 267.2L723.1 269.6L723.6 269.8L724.1 273.1L724.5 274.9L725.0 275.5L725.5 271.9L726.0 271.2L726.5 272.9L726.9 276.8L727.4 276.2L727.9 278.1L728.4 276.6L728.9 277.3L729.3 277.8L729.8 277.6L730.3 279.9L730.8 280.5L731.3 283.1L731.7 282.2L732.2 283.9L732.7 282.6L733.2 283.7L733.7 282.3L734.1 281.5L734.6 285.0L735.1 285.2L735.6 285.6L736.1 283.1L736.5 280.5L737.0 278.9L737.5 278.9L738.0 273.8L738.5 276.1L738.9 269.8L739.4 269.7L739.9 269.2L740.4 263.0L740.9 262.7L741.3 265.8L741.8 264.5L742.3 265.2L742.8 264.2L743.3 266.5L743.7 265.5L744.2 263.2L744.7 262.5L745.2 260.2L745.7 261.2L746.1 258.2L746.6 261.0L747.1 259.5L747.6 261.9L748.1 261.0L748.5 254.7L749.0 256.5L749.5 253.3L750.0 253.2L750.5 256.2L750.9 257.0L751.4 258.7L751.9 259.9L752.4 260.1L752.9 262.6L753.3 267.9L753.8 272.7L754.3 274.3L754.8 276.8L755.3 275.2L755.7 273.7L756.2 274.7L756.7 277.1L757.2 278.3L757.7 279.9L758.1 280.4L758.6 279.8L759.1 278.0L759.6 276.7L760.1 274.3L760.5 274.9L761.0 273.6L761.5 273.7L762.0 267.8L762.5 266.3L762.9 262.4L763.4 262.1L763.9 259.4L764.4 260.0L764.9 257.1L765.3 250.7L765.8 254.5L766.3 249.4L766.8 245.1L767.3 244.7L767.7 243.0L768.2 241.7L768.7 244.7L769.2 242.8L769.7 244.8L770.1 244.8L770.6 243.9L771.1 242.0L771.6 238.3L772.1 234.7L772.5 235.6L773.0 226.5L773.5 223.4L774.0 221.1L774.5 220.0L774.9 222.0L775.4 222.7L775.9 223.6L776.4 229.4L776.9 227.4L777.3 223.1L777.8 228.9L778.3 224.1L778.8 223.9L779.3 224.6L779.7 220.4L780.2 227.5L780.7 227.8L781.2 226.4L781.7 231.6L782.1 235.5L782.6 238.1L783.1 241.9L783.6 240.9L784.1 247.5L784.5 245.3L785.0 249.4L785.5 247.1L786.0 248.1L786.5 253.4L786.9 251.5L787.4 253.4L787.9 253.6L788.4 250.9L788.9 254.9L789.3 253.3L789.8 245.7L790.3 244.0L790.8 238.3L791.3 238.6L791.7 242.6L792.2 242.1L792.7 239.5L793.2 239.2L793.7 241.8L794.1 243.0L794.6 243.7L795.1 243.7L795.6 238.1L796.1 239.8L796.5 242.2L797.0 241.0L797.5 237.9L798.0 236.0L798.5 236.4L798.9 237.8L799.4 236.4L799.9 239.2L800.4 239.0L800.9 235.2L801.3 237.4L801.8 237.2L802.3 236.4L802.8 238.0L803.3 240.2L803.7 237.1L804.2 239.3L804.7 242.2L805.2 240.9L805.7 241.1L806.1 243.6L806.6 242.5L807.1 243.0L807.6 246.7L808.1 244.6L808.5 245.1L809.0 246.3L809.5 249.6L810.0 249.2L810.5 247.2L810.9 245.7L811.4 247.7L811.9 244.3L812.4 246.5L812.9 244.8L813.3 240.5L813.8 243.4L814.3 244.1L814.8 241.6L815.3 243.6L815.7 243.6L816.2 242.6L816.7 240.6L817.2 246.4L817.7 245.6L818.1 246.2L818.6 246.6L819.1 246.4L819.6 247.2L820.1 245.5L820.5 248.0L821.0 247.7L821.5 247.9L822.0 250.8L822.5 250.4L822.9 247.7L823.4 248.8L823.9 250.1L824.4 248.4L824.9 248.7L825.3 245.4L825.8 244.5L826.3 248.8L826.8 249.7L827.3 248.2L827.7 251.8L828.2 252.8L828.7 253.5L829.2 251.6L829.7 248.5L830.1 241.8L830.6 242.0L831.1 241.4L831.6 241.2L832.1 240.6L832.5 238.3L833.0 238.5L833.5 234.8L834.0 237.0L834.5 234.9L834.9 236.5L835.4 238.2L835.9 243.2L836.4 243.5L836.9 244.4L837.3 245.9L837.8 246.9L838.3 239.7L838.8 238.5L839.3 236.3L839.7 234.1L840.2 234.8L840.7 233.7L841.2 237.1L841.7 237.6L842.1 235.3L842.6 235.2L843.1 236.7L843.6 237.4L844.1 238.6L844.5 237.4L845.0 234.1L845.5 238.0L846.0 233.5L846.5 233.2L846.9 236.3L847.4 237.1L847.9 244.2L848.4 248.4L848.9 250.7L849.3 249.9L849.8 248.9L850.3 249.0L850.8 248.1L851.3 252.4L851.7 246.8L852.2 246.1L852.7 242.1L853.2 238.2L853.7 237.0L854.1 236.6L854.6 236.4L855.1 234.4L855.6 232.5L856.1 232.5L856.5 235.7L857.0 236.9L857.5 237.4L858.0 234.1L858.5 238.1L858.9 232.8L859.4 234.9L859.9 236.2L860.4 233.1L860.9 230.7L861.3 230.6L861.8 228.3L862.3 229.7L862.8 228.7L863.3 228.6L863.7 231.7L864.2 229.5L864.7 230.7L865.2 227.7L865.7 226.7L866.1 222.9L866.6 216.9L867.1 217.1L867.6 212.6L868.1 215.3L868.5 218.1L869.0 225.8L869.5 224.9L870.0 223.8L870.5 227.3L870.9 227.7L871.4 233.7L871.9 230.9L872.4 233.5L872.9 232.2L873.3 236.5L873.8 232.5L874.3 233.3L874.8 230.9L875.3 233.2L875.7 233.3L876.2 227.7L876.7 231.2L877.2 232.5L877.7 231.9L878.1 232.9L878.6 228.1L879.1 226.6L879.6 230.7L880.1 233.4L880.5 230.5L881.0 229.5L881.5 229.5L882.0 229.1L882.5 234.3L882.9 234.4L883.4 237.7L883.9 240.0L884.4 238.1L884.9 242.9L885.3 241.4L885.8 246.8L886.3 251.9L886.8 246.1L887.3 240.4L887.7 238.3L888.2 238.5L888.7 233.3L889.2 226.9L889.7 227.8L890.1 228.9L890.6 225.5L891.1 226.4L891.6 229.0L892.1 228.6L892.5 229.7L893.0 227.2L893.5 228.6L894.0 228.5L894.5 230.8L894.9 237.8L895.4 235.9L895.9 231.2L896.4 228.8L896.9 224.6L897.3 224.8L897.8 224.6L898.3 219.9L898.8 222.2L899.3 223.9L899.7 217.0L900.2 218.0L900.7 215.9L901.2 217.0L901.7 216.2L902.1 214.4L902.6 210.9L903.1 207.0L903.6 211.5L904.1 206.7L904.5 209.8L905.0 211.2L905.5 207.4L906.0 208.9L906.5 213.4L906.9 208.3L907.4 213.8L907.9 213.7L908.4 214.3L908.9 211.9L909.3 214.6L909.8 212.0L910.3 215.4L910.8 212.0L911.3 215.4L911.7 215.9L912.2 211.0" stroke="#A5A5A5"/>
</g>
<g stroke-width="3" stroke-linecap="round"><path d="M111.5 571.5H136.5" stroke="#5B9BD5"/><path d="M349 571.5H373" stroke="#ED7D31"/><path d="M707.5 571.5H731.5" stroke="#A5A5A5"/></g>
<text x="139.5" y="576.7" font-size="17.9">MICEX Total Return</text>
<text x="376.7" y="576.7" font-size="17.95">MICEX Net Total Return (Resident)</text>
<text x="734" y="576.7" font-size="17.7" textLength="121" lengthAdjust="spacing">индекс ММВБ</text>
</svg>
</body></html>
